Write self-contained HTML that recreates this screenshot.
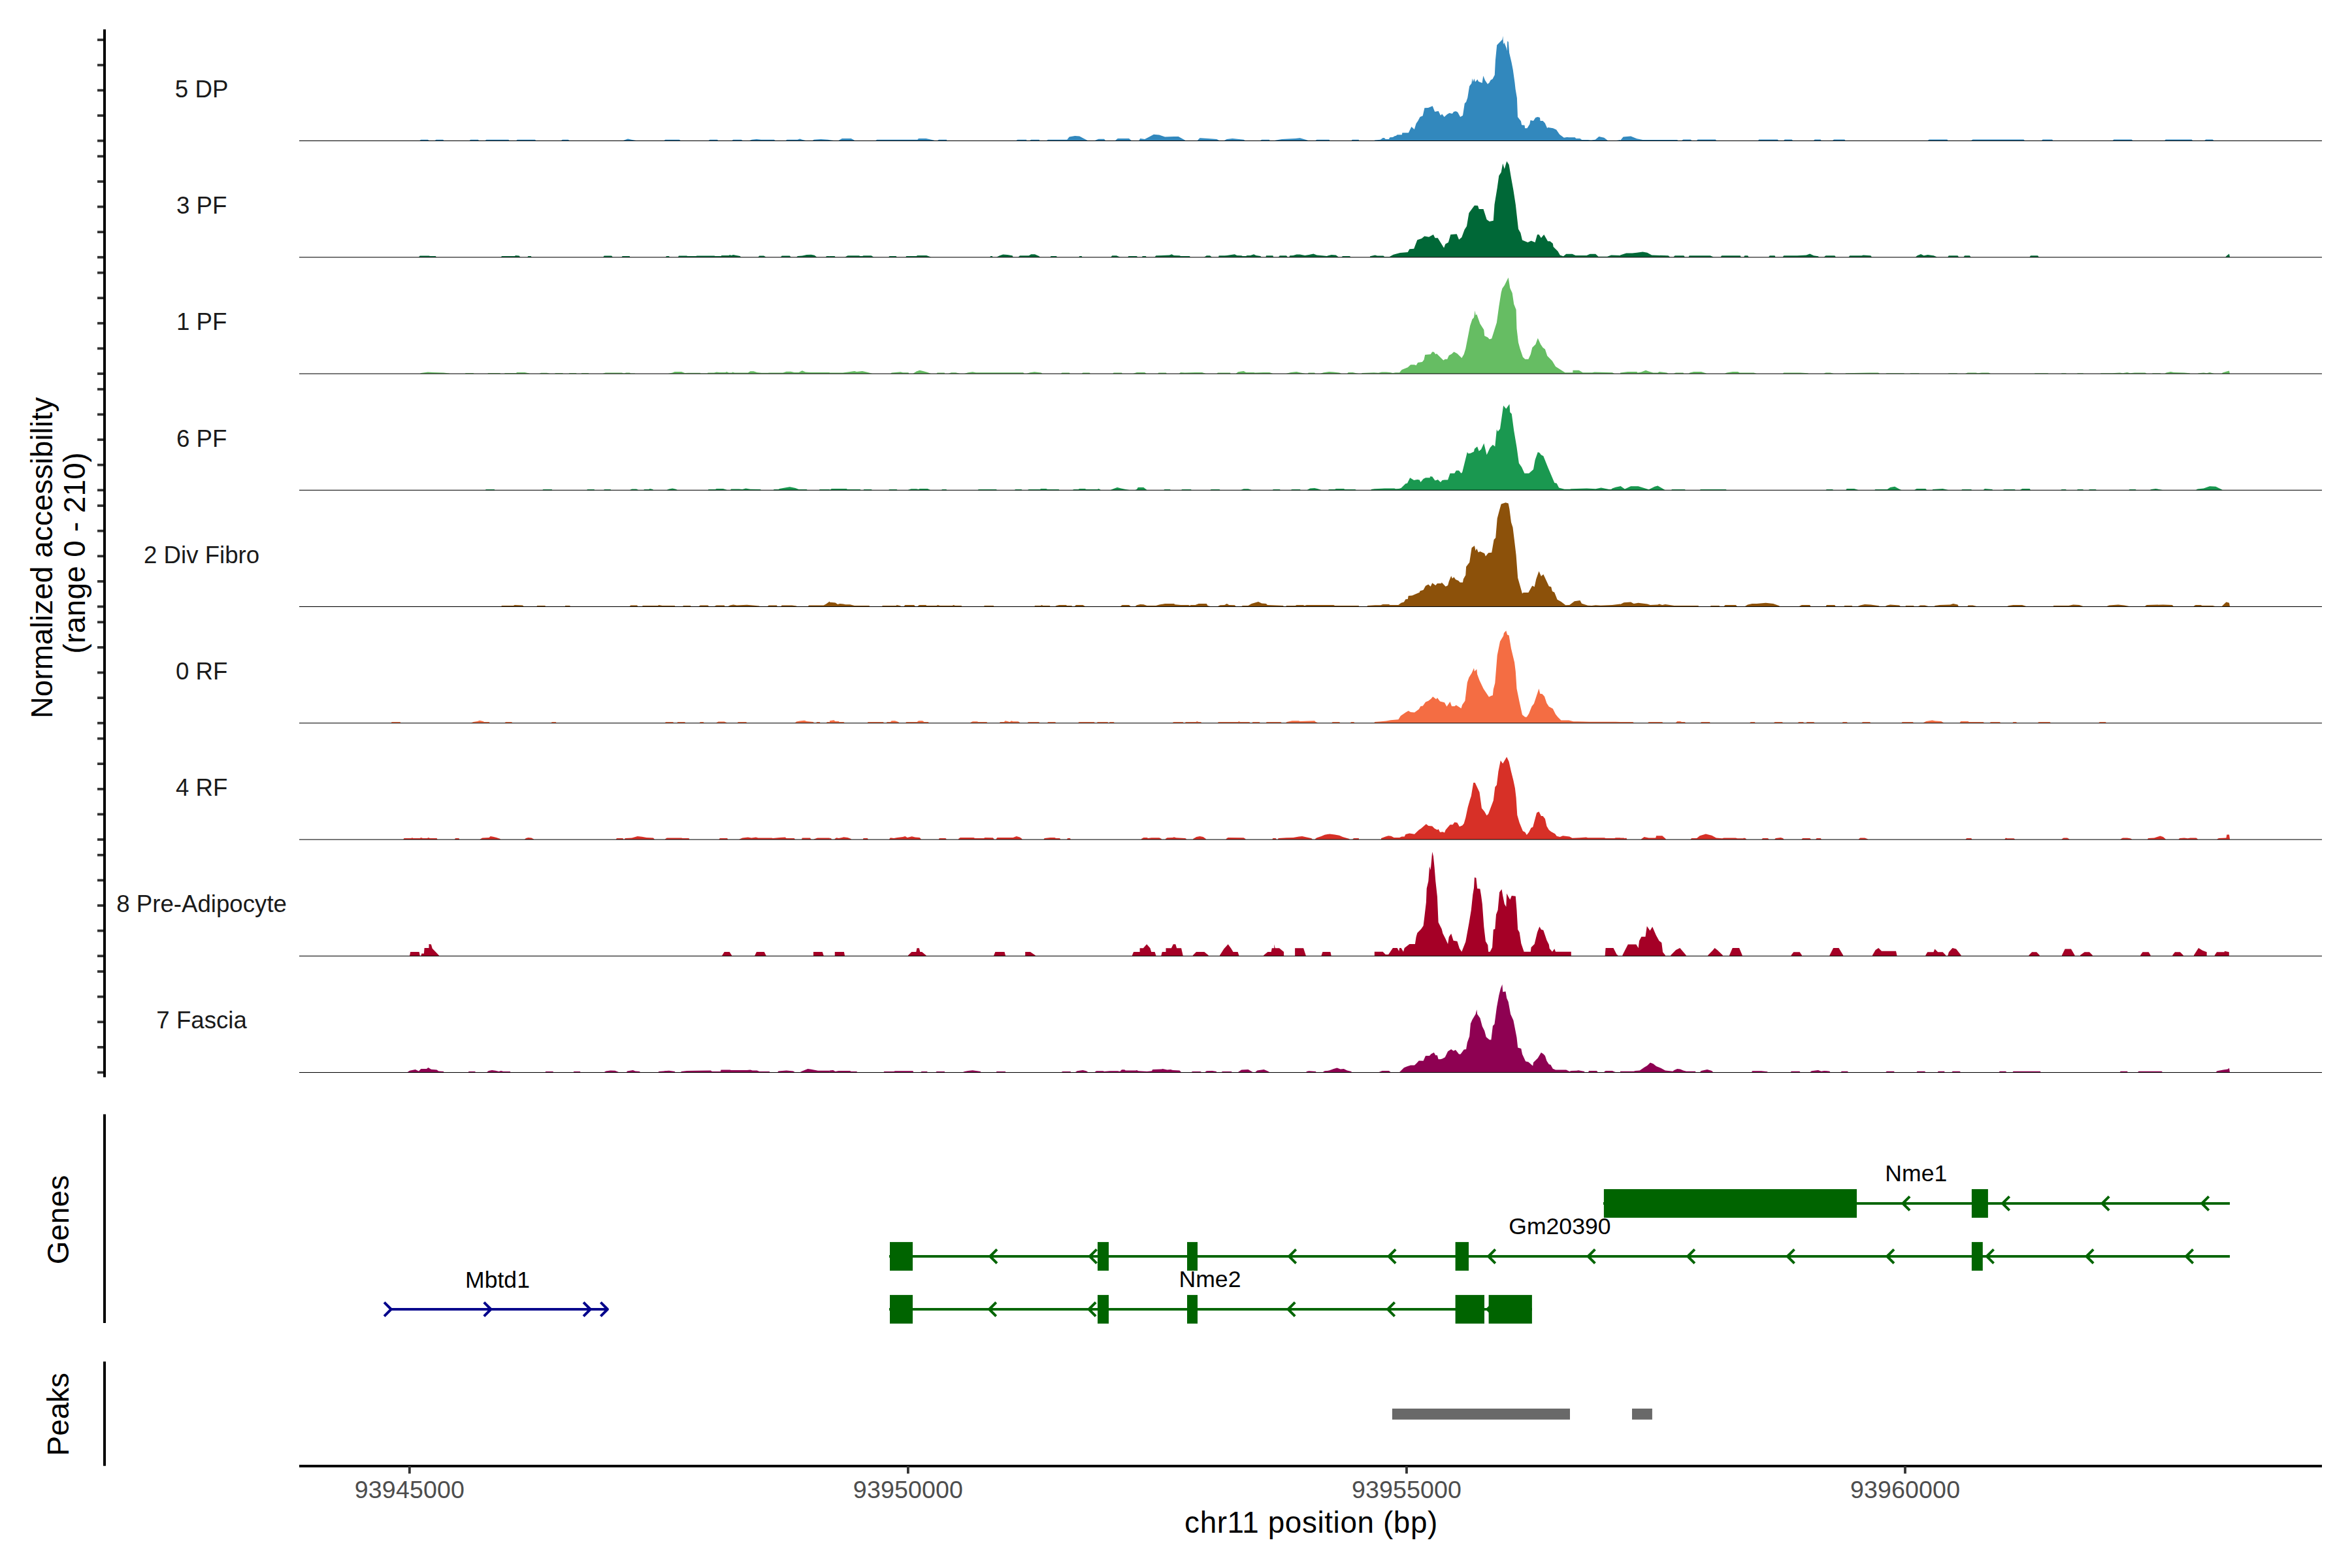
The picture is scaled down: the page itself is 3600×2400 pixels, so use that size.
<!DOCTYPE html><html><head><meta charset="utf-8"><style>html,body{margin:0;padding:0;background:#fff;}svg{display:block}text{font-family:"Liberation Sans", sans-serif;}</style></head><body>
<svg width="3600" height="2400" viewBox="0 0 3600 2400">
<rect x="0" y="0" width="3600" height="2400" fill="#fff"/>
<path d="M2104.0,215.5 2104.0,215.2 2104.0,214.6 2112.9,213.7 2116.8,211.1 2119.1,211.3 2120.7,213.0 2125.8,213.0 2127.4,210.2 2131.9,210.0 2134.7,208.2 2136.9,207.7 2138.6,206.3 2145.8,206.3 2146.4,203.3 2155.9,203.3 2160.4,194.0 2164.8,197.9 2167.6,189.0 2170.4,185.1 2173.5,178.9 2177.7,177.3 2180.4,165.3 2186.0,165.0 2192.7,162.2 2196.1,171.1 2201.7,170.0 2205.0,176.7 2207.2,174.5 2210.6,178.9 2215.0,175.0 2218.4,173.1 2222.9,173.9 2225.1,171.1 2228.4,170.2 2231.2,171.7 2235.1,178.9 2239.0,176.7 2241.8,158.3 2244.1,156.0 2246.3,149.4 2249.1,132.1 2252.4,127.6 2253.5,120.0 2254.7,125.4 2256.3,120.3 2258.0,125.4 2261.4,121.5 2263.0,124.8 2268.6,127.0 2270.3,116.1 2273.1,123.1 2277.0,128.7 2280.0,125.9 2280.0,125.4 2281.7,122.6 2284.5,120.9 2287.8,114.8 2288.9,92.4 2291.2,69.0 2299.5,60.6 2300.4,55.0 2301.0,67.9 2302.3,65.1 2305.7,73.5 2306.6,77.9 2307.3,62.9 2308.8,64.0 2310.1,80.7 2313.5,95.2 2315.7,106.4 2318.5,126.5 2319.6,136.5 2321.9,149.9 2323.0,178.9 2328.0,185.6 2329.1,191.2 2333.6,191.8 2334.1,196.2 2337.5,196.2 2341.4,190.1 2342.5,184.0 2347.0,185.1 2350.3,180.0 2353.7,178.9 2357.0,180.0 2357.6,185.1 2361.5,185.1 2364.8,188.4 2368.2,196.2 2369.3,195.1 2377.1,196.2 2382.1,198.5 2387.1,205.7 2393.8,210.7 2398.3,210.0 2401.7,210.2 2410.6,210.2 2412.3,211.9 2418.4,212.1 2421.2,214.1 2430.7,214.1 2435.1,214.4 2441.8,213.7 2447.4,209.1 2455.2,210.7 2460.8,214.9 2474.2,214.9 2480.0,214.1 2480.0,215.2 2480.0,215.5ZM1283.8,215.5 1283.8,214.8 1288.9,212.0 1302.7,212.0 1307.9,214.8 1307.9,215.5ZM1340.6,215.5 1340.6,214.8 1342.3,213.7 1404.3,213.7 1406.0,212.0 1417.4,212.0 1430.1,214.8 1430.1,215.5ZM1435.3,215.5 1435.3,214.8 1437.0,213.7 1449.1,213.7 1449.1,214.8 1449.1,215.5ZM1555.8,215.5 1555.8,214.8 1557.5,213.7 1571.3,213.7 1571.3,214.8 1571.3,215.5ZM1576.5,215.5 1576.5,214.8 1578.2,213.7 1590.9,213.7 1590.9,214.8 1590.9,215.5ZM1602.3,215.5 1602.3,214.8 1604.0,213.7 1633.3,213.7 1636.7,209.6 1645.3,207.9 1652.2,208.6 1662.6,214.1 1664.3,214.8 1664.3,215.5ZM1676.3,215.5 1676.3,214.8 1681.5,212.7 1690.1,212.7 1691.8,214.8 1691.8,215.5ZM1707.3,215.5 1707.3,214.8 1710.8,212.0 1728.0,212.0 1731.4,214.8 1731.4,215.5ZM1743.5,215.5 1743.5,214.8 1745.2,212.0 1752.1,213.0 1759.0,209.6 1765.9,205.8 1774.5,206.5 1783.1,209.6 1796.9,208.9 1803.7,208.9 1814.1,214.8 1814.1,215.5ZM1833.0,215.5 1833.0,214.8 1836.5,211.3 1848.5,212.0 1862.3,213.0 1865.7,214.8 1865.7,215.5ZM1874.3,215.5 1874.3,214.8 1877.8,213.0 1886.4,212.0 1903.6,213.7 1905.3,214.8 1905.3,215.5ZM1929.4,215.5 1929.4,214.8 1931.2,213.7 1943.2,213.7 1943.2,214.8 1943.2,215.5ZM1951.8,215.5 1951.8,214.8 1962.1,213.0 1982.8,212.0 1989.7,211.3 2001.7,214.8 2001.7,215.5ZM2013.8,215.5 2013.8,214.8 2015.5,213.7 2034.5,213.7 2035.2,214.8 2035.2,215.5ZM2068.9,215.5 2068.9,214.8 2069.6,213.7 2079.9,213.7 2079.9,214.8 2079.9,215.5ZM642.4,215.5 642.4,215.1 644.2,213.7 654.9,213.7 656.7,215.1 656.7,215.5ZM665.7,215.5 665.7,215.1 667.5,213.7 678.2,213.7 679.3,215.1 679.3,215.5ZM718.7,215.5 718.7,215.1 720.1,213.7 731.9,213.7 733.0,215.1 733.0,215.5ZM742.6,215.5 742.6,215.1 744.4,213.7 778.4,213.7 779.5,215.1 779.5,215.5ZM790.3,215.5 790.3,215.1 791.7,213.7 818.9,213.7 820.3,215.1 820.3,215.5ZM859.0,215.5 859.0,215.1 860.8,213.7 869.7,213.7 871.5,215.1 871.5,215.5ZM953.9,215.5 953.9,215.1 957.5,213.7 961.0,212.6 966.4,213.7 973.6,215.1 973.6,215.5ZM1016.5,215.5 1016.5,215.1 1018.3,213.7 1039.8,213.7 1041.6,215.1 1041.6,215.5ZM1084.6,215.5 1084.6,215.1 1086.4,213.7 1098.2,213.7 1098.9,215.1 1098.9,215.5ZM1120.4,215.5 1120.4,215.1 1122.2,213.7 1134.7,213.7 1136.5,215.1 1136.5,215.5ZM1147.2,215.5 1147.2,215.1 1150.8,213.7 1158.0,212.9 1165.1,213.7 1184.8,213.7 1186.6,215.1 1186.6,215.5ZM1202.7,215.5 1202.7,215.1 1204.5,213.7 1220.6,213.7 1224.2,212.6 1227.8,213.7 1233.2,215.1 1233.2,215.5ZM1243.9,215.5 1243.9,215.1 1245.7,213.7 1256.4,212.9 1267.2,213.7 1276.1,215.1 1276.1,215.5ZM1286.9,215.5 1286.9,215.1 1288.6,212.6 1300.1,211.9 1300.1,215.1 1300.1,215.5ZM2480.0,215.5 2480.0,215.0 2484.6,209.5 2496.1,208.6 2505.3,212.2 2514.4,214.1 2567.2,214.1 2568.2,215.0 2568.2,215.5ZM2574.1,215.5 2574.1,215.0 2576.4,213.6 2587.9,213.6 2589.3,215.0 2589.3,215.5ZM2597.1,215.5 2597.1,215.0 2598.5,213.6 2626.0,213.6 2626.9,215.0 2626.9,215.5ZM2691.2,215.5 2691.2,215.0 2692.1,213.6 2721.0,213.6 2722.0,215.0 2722.0,215.5ZM2730.2,215.5 2730.2,215.0 2731.6,213.6 2742.6,213.6 2744.0,215.0 2744.0,215.5ZM2776.1,215.5 2776.1,215.0 2777.5,213.6 2786.7,213.6 2787.6,215.0 2787.6,215.5ZM2805.1,215.5 2805.1,215.0 2806.9,213.6 2823.4,213.6 2824.4,215.0 2824.4,215.5ZM2950.6,215.5 2950.6,215.0 2952.9,213.6 2980.5,213.6 2981.4,215.0 2981.4,215.5ZM3017.2,215.5 3017.2,215.0 3019.5,213.6 3097.5,213.6 3098.9,215.0 3098.9,215.5ZM3125.1,215.5 3125.1,215.0 3126.5,213.6 3141.2,213.6 3142.1,215.0 3142.1,215.5ZM3233.9,215.5 3233.9,215.0 3235.3,213.6 3262.8,213.6 3264.2,215.0 3264.2,215.5ZM3313.3,215.5 3313.3,215.0 3314.7,213.6 3354.7,213.6 3356.0,215.0 3356.0,215.5ZM3374.4,215.5 3374.4,215.0 3376.2,213.6 3386.8,213.6 3388.2,215.0 3388.2,215.5Z" fill="#3288BD"/>
<rect x="458" y="215.00" width="3096" height="1.05" fill="#000"/>
<rect x="149" y="213.60" width="12" height="3.8" fill="#333"/>
<rect x="149" y="174.97" width="12" height="3.8" fill="#333"/>
<rect x="149" y="136.35" width="12" height="3.8" fill="#333"/>
<rect x="149" y="97.72" width="12" height="3.8" fill="#333"/>
<rect x="149" y="59.10" width="12" height="3.8" fill="#333"/>
<text x="308.6" y="149.1" font-size="36.67" fill="#1A1A1A" text-anchor="middle">5 DP</text>
<path d="M2097.0,393.8 2097.0,393.1 2097.0,392.2 2104.7,390.5 2108.1,391.4 2117.4,391.4 2119.1,393.1 2126.8,393.1 2132.7,389.7 2142.9,387.1 2154.8,385.9 2157.4,381.2 2164.2,380.8 2169.3,367.2 2176.1,365.0 2180.3,361.6 2187.1,362.8 2193.9,359.1 2196.5,364.2 2200.7,364.2 2210.1,379.5 2212.3,373.5 2216.9,371.0 2220.3,359.1 2229.7,358.2 2233.1,366.7 2237.3,363.3 2241.6,351.4 2245.0,346.3 2248.4,325.9 2253.5,319.1 2256.9,314.5 2262.0,314.8 2263.7,319.9 2270.5,319.9 2275.6,336.1 2279.8,339.0 2285.8,337.8 2287.5,313.1 2291.7,287.6 2294.3,268.9 2297.7,263.8 2300.2,250.2 2302.8,258.7 2306.2,246.8 2309.6,251.9 2313.0,272.3 2316.4,291.0 2319.8,313.1 2324.0,350.6 2327.4,356.5 2330.0,367.6 2338.5,371.0 2343.6,368.4 2349.6,371.0 2353.0,359.1 2355.5,359.1 2358.9,364.2 2363.2,359.1 2369.1,369.3 2372.5,369.3 2376.8,372.7 2377.6,377.8 2384.4,384.6 2387.8,390.5 2392.9,392.2 2397.2,388.8 2406.5,388.8 2411.6,391.0 2428.6,391.0 2433.7,388.8 2442.2,388.8 2446.5,392.7 2460.1,392.7 2466.1,390.5 2480.0,391.0 2480.0,393.1 2480.0,393.8ZM640.9,393.8 640.9,393.5 642.7,391.4 656.5,391.4 658.2,392.1 666.8,392.1 667.9,393.5 667.9,393.8ZM766.9,393.8 766.9,393.5 768.0,392.1 787.7,392.1 789.4,391.1 794.6,391.4 796.3,393.5 796.3,393.8ZM807.3,393.8 807.3,393.5 808.4,392.1 812.8,392.1 813.5,393.5 813.5,393.8ZM923.3,393.8 923.3,393.5 924.7,391.4 936.1,391.4 937.8,393.5 937.8,393.8ZM951.6,393.8 951.6,393.5 952.6,392.1 963.7,392.1 964.4,393.5 964.4,393.8ZM1018.9,393.8 1018.9,393.5 1020.0,392.1 1024.1,392.1 1024.8,393.5 1024.8,393.8ZM1037.9,393.8 1037.9,393.5 1038.9,391.4 1051.0,391.4 1052.4,392.1 1065.5,392.1 1066.6,391.4 1093.1,391.4 1094.9,392.1 1103.5,392.1 1104.5,391.1 1115.6,391.1 1117.3,390.0 1119.0,391.1 1122.5,390.0 1125.9,390.7 1132.8,392.1 1133.9,393.5 1133.9,393.8ZM1160.5,393.8 1160.5,393.5 1162.2,391.4 1169.1,391.4 1172.5,393.5 1172.5,393.8ZM1195.0,393.8 1195.0,393.5 1196.7,391.4 1208.8,391.4 1210.5,393.5 1210.5,393.8ZM1219.1,393.8 1219.1,393.5 1220.9,392.1 1227.8,391.4 1234.7,390.0 1241.6,389.7 1246.7,390.7 1250.2,393.5 1250.2,393.8ZM1264.0,393.8 1264.0,393.5 1265.0,392.1 1269.9,392.1 1269.9,393.5 1269.9,393.8ZM1270.0,393.8 1270.0,393.4 1270.0,392.0 1277.6,392.0 1278.6,393.4 1278.6,393.8ZM1293.4,393.8 1293.4,393.4 1297.5,391.3 1314.8,391.3 1316.5,392.0 1319.9,392.0 1321.7,391.3 1333.7,391.3 1337.1,393.4 1337.1,393.8ZM1360.2,393.8 1360.2,393.4 1361.3,392.0 1371.6,392.0 1372.6,393.4 1372.6,393.8ZM1386.4,393.8 1386.4,393.4 1387.1,392.0 1402.6,392.0 1404.3,391.0 1418.1,391.0 1425.0,393.4 1425.0,393.8ZM1515.2,393.8 1515.2,393.4 1516.2,392.0 1518.6,392.0 1519.7,393.4 1519.7,393.8ZM1525.5,393.8 1525.5,393.4 1530.0,391.3 1535.2,389.6 1542.0,389.9 1549.6,391.3 1550.6,393.4 1550.6,393.8ZM1558.6,393.8 1558.6,393.4 1561.0,391.3 1574.8,391.3 1578.2,389.3 1584.0,389.3 1590.2,392.0 1592.0,393.4 1592.0,393.8ZM1607.5,393.8 1607.5,393.4 1608.5,392.0 1617.1,392.0 1617.8,393.4 1617.8,393.8ZM1651.5,393.8 1651.5,393.4 1652.2,392.0 1655.7,392.0 1656.4,393.4 1656.4,393.8ZM1700.4,393.8 1700.4,393.4 1702.2,391.3 1709.0,391.3 1714.2,393.4 1714.2,393.8ZM1726.3,393.8 1726.3,393.4 1727.3,392.0 1740.0,392.0 1741.1,393.4 1741.1,393.8ZM1748.0,393.8 1748.0,393.4 1748.7,392.0 1753.8,392.0 1754.8,393.4 1754.8,393.8ZM1767.6,393.8 1767.6,393.4 1769.3,391.3 1790.0,390.6 1793.4,389.3 1796.9,391.0 1805.5,391.3 1807.2,392.0 1821.0,392.0 1821.7,393.4 1821.7,393.8ZM1843.3,393.8 1843.3,393.4 1846.8,391.3 1852.0,391.3 1854.7,393.4 1854.7,393.8ZM1865.0,393.8 1865.0,393.4 1865.7,391.3 1874.3,391.3 1877.8,391.0 1889.8,389.3 1893.3,391.0 1900.2,391.3 1901.9,392.0 1907.1,392.0 1908.8,391.0 1913.9,391.0 1919.1,389.3 1922.5,391.0 1929.4,392.0 1930.5,393.4 1930.5,393.8ZM1937.4,393.8 1937.4,393.4 1938.0,391.3 1948.4,391.3 1949.1,393.4 1949.1,393.8ZM1957.0,393.8 1957.0,393.4 1958.7,391.3 1969.0,391.3 1970.8,393.4 1970.8,393.8ZM1973.2,393.8 1973.2,393.4 1974.2,391.3 1979.4,391.0 1984.5,389.6 1989.7,389.6 1997.3,391.0 2003.5,389.9 2010.4,388.6 2015.5,390.6 2024.1,391.3 2031.0,392.0 2032.7,391.3 2037.9,389.9 2044.8,390.6 2048.9,393.4 2048.9,393.8ZM2053.4,393.8 2053.4,393.4 2055.1,392.0 2066.1,392.0 2067.2,393.4 2067.2,393.8ZM2480.0,393.8 2480.0,393.2 2480.0,390.4 2489.2,387.6 2498.4,387.6 2505.3,386.7 2514.4,385.4 2521.3,386.7 2528.2,390.4 2553.5,391.3 2555.8,393.2 2555.8,393.8ZM2561.7,393.8 2561.7,393.2 2563.6,391.3 2577.3,391.3 2578.7,393.2 2578.7,393.8ZM2584.7,393.8 2584.7,393.2 2585.6,391.3 2617.7,391.3 2622.3,393.2 2622.3,393.8ZM2633.8,393.8 2633.8,393.2 2635.2,391.3 2663.7,391.3 2664.6,393.2 2664.6,393.8ZM2669.2,393.8 2669.2,393.2 2670.5,391.3 2675.1,391.3 2676.5,393.2 2676.5,393.8ZM2707.3,393.8 2707.3,393.2 2708.7,391.3 2716.5,391.3 2717.4,393.2 2717.4,393.8ZM2728.9,393.8 2728.9,393.2 2730.2,391.3 2750.9,391.3 2764.7,390.4 2770.2,388.6 2776.1,391.3 2783.0,392.2 2783.9,393.2 2783.9,393.8ZM2792.2,393.8 2792.2,393.2 2794.5,391.3 2808.3,391.3 2809.7,393.2 2809.7,393.8ZM2829.9,393.8 2829.9,393.2 2831.2,391.3 2849.6,391.3 2851.9,390.4 2863.4,391.3 2864.8,393.2 2864.8,393.8ZM2932.2,393.8 2932.2,393.2 2934.5,391.3 2940.1,389.0 2944.6,391.3 2950.6,389.9 2959.8,391.3 2964.4,393.2 2964.4,393.8ZM2981.4,393.8 2981.4,393.2 2982.8,391.3 2996.5,391.3 2997.9,393.2 2997.9,393.8ZM3005.7,393.8 3005.7,393.2 3007.1,391.3 3014.9,391.3 3016.3,393.2 3016.3,393.8ZM3106.7,393.8 3106.7,393.2 3108.1,391.3 3119.1,391.3 3120.5,393.2 3120.5,393.8ZM3406.5,393.8 3406.5,393.2 3408.4,391.3 3412.0,388.6 3413.0,393.2 3413.0,393.8Z" fill="#006837"/>
<rect x="458" y="393.25" width="3096" height="1.05" fill="#000"/>
<rect x="149" y="391.85" width="12" height="3.8" fill="#333"/>
<rect x="149" y="353.23" width="12" height="3.8" fill="#333"/>
<rect x="149" y="314.60" width="12" height="3.8" fill="#333"/>
<rect x="149" y="275.98" width="12" height="3.8" fill="#333"/>
<rect x="149" y="237.35" width="12" height="3.8" fill="#333"/>
<text x="308.6" y="327.2" font-size="36.67" fill="#1A1A1A" text-anchor="middle">3 PF</text>
<path d="M2084.3,572.0 2084.3,571.9 2084.3,571.1 2103.0,570.2 2109.8,570.7 2114.9,569.4 2121.7,569.4 2127.6,569.9 2131.9,571.1 2136.1,570.2 2142.1,570.2 2145.5,566.0 2154.8,562.2 2159.1,558.3 2165.0,558.3 2167.6,559.2 2170.1,554.9 2176.9,554.1 2179.5,550.7 2181.2,543.0 2189.7,542.2 2192.2,538.4 2194.8,538.8 2197.3,542.2 2199.0,541.3 2209.3,551.5 2211.8,549.8 2215.2,549.8 2217.8,543.9 2222.0,541.8 2225.4,538.4 2230.5,541.3 2237.3,548.1 2240.7,542.2 2243.3,533.7 2250.1,498.8 2253.5,488.6 2256.0,486.0 2257.7,475.3 2258.6,482.6 2260.3,480.9 2265.4,495.4 2271.3,504.7 2272.2,514.1 2277.3,516.6 2279.8,519.2 2283.2,518.3 2290.9,493.7 2294.3,469.0 2297.7,447.8 2299.4,441.5 2302.8,436.7 2308.7,424.8 2311.3,441.0 2314.7,448.6 2317.2,465.6 2320.6,474.1 2321.5,503.0 2324.0,524.3 2326.6,533.7 2330.9,546.4 2334.3,549.8 2339.4,549.8 2342.8,542.2 2345.3,532.0 2350.4,526.9 2353.8,517.5 2358.1,526.9 2361.5,532.0 2364.9,534.5 2368.3,544.7 2375.9,552.4 2381.0,560.9 2386.1,564.3 2395.5,570.2 2407.4,570.2 2407.4,566.8 2416.7,566.8 2422.7,570.2 2437.1,570.2 2440.5,569.4 2467.8,570.2 2471.2,571.9 2471.2,572.0ZM642.7,572.0 642.7,572.0 644.4,571.1 654.8,569.4 663.4,570.0 678.9,570.4 687.5,571.4 688.6,572.0 688.6,572.0ZM711.7,572.0 711.7,572.0 712.7,571.1 724.5,571.1 725.5,572.0 725.5,572.0ZM746.2,572.0 746.2,572.0 747.3,571.1 765.2,571.1 766.2,572.0 766.2,572.0ZM772.1,572.0 772.1,572.0 772.8,571.1 790.1,571.1 791.1,570.0 803.2,570.0 810.1,571.4 810.8,572.0 810.8,572.0ZM825.6,572.0 825.6,572.0 828.0,570.7 837.0,570.7 841.2,571.8 841.8,572.0 841.8,572.0ZM849.1,572.0 849.1,572.0 850.1,571.1 861.2,571.1 861.9,572.0 861.9,572.0ZM870.5,572.0 870.5,572.0 871.5,571.1 881.9,571.1 882.6,572.0 882.6,572.0ZM889.5,572.0 889.5,572.0 890.5,571.1 900.5,571.1 901.6,572.0 901.6,572.0ZM922.3,572.0 922.3,572.0 926.8,570.4 951.6,570.4 955.1,571.4 958.5,570.4 963.7,570.4 965.4,571.4 971.6,571.4 972.3,572.0 972.3,572.0ZM1022.4,572.0 1022.4,572.0 1029.3,570.4 1032.7,569.0 1043.1,569.0 1048.3,571.1 1053.4,570.7 1071.7,570.7 1072.4,571.4 1082.8,571.4 1083.5,570.4 1093.1,570.4 1096.6,569.4 1101.8,570.0 1110.4,570.0 1112.1,569.0 1115.6,570.4 1120.1,570.4 1121.4,569.4 1124.2,570.4 1144.9,570.4 1148.4,568.3 1153.5,568.3 1158.7,570.0 1165.6,570.7 1176.0,570.7 1176.7,570.4 1198.4,570.4 1203.6,568.7 1210.5,568.7 1215.7,570.0 1222.6,570.0 1227.8,567.3 1232.9,569.4 1240.9,570.0 1269.9,570.0 1269.9,572.0 1269.9,572.0ZM1270.0,572.0 1270.0,572.0 1270.0,570.6 1290.0,570.6 1299.3,569.3 1307.9,567.9 1311.3,568.9 1319.9,567.9 1328.5,569.9 1335.4,572.0 1335.4,572.0ZM1363.0,572.0 1363.0,572.0 1364.7,570.6 1378.5,569.3 1381.9,570.3 1390.5,570.3 1391.2,572.0 1391.2,572.0ZM1397.4,572.0 1397.4,572.0 1402.6,568.6 1407.7,566.8 1412.9,567.9 1419.8,569.9 1425.0,572.0 1425.0,572.0ZM1433.6,572.0 1433.6,572.0 1434.6,570.6 1445.6,570.6 1446.3,572.0 1446.3,572.0ZM1451.5,572.0 1451.5,572.0 1456.0,570.3 1462.8,570.3 1469.7,572.0 1469.7,572.0ZM1475.9,572.0 1475.9,572.0 1481.8,570.3 1488.7,569.3 1493.8,570.3 1566.1,570.3 1567.9,572.0 1567.9,572.0ZM1571.3,572.0 1571.3,572.0 1576.5,570.3 1583.4,569.3 1593.7,570.6 1595.4,572.0 1595.4,572.0ZM1624.0,572.0 1624.0,572.0 1625.4,570.6 1636.7,570.6 1637.8,572.0 1637.8,572.0ZM1655.7,572.0 1655.7,572.0 1657.4,570.6 1667.7,570.6 1668.8,572.0 1668.8,572.0ZM1703.2,572.0 1703.2,572.0 1704.6,570.6 1717.0,570.6 1717.7,572.0 1717.7,572.0ZM1734.2,572.0 1734.2,572.0 1740.0,569.9 1752.1,569.9 1754.8,572.0 1754.8,572.0ZM1772.1,572.0 1772.1,572.0 1773.4,570.6 1784.8,570.6 1785.8,572.0 1785.8,572.0ZM1804.4,572.0 1804.4,572.0 1807.2,569.9 1813.4,570.6 1829.6,569.9 1839.9,569.9 1845.8,572.0 1845.8,572.0ZM1862.3,572.0 1862.3,572.0 1864.0,570.6 1882.9,570.6 1883.6,572.0 1883.6,572.0ZM1891.6,572.0 1891.6,572.0 1895.0,569.3 1903.6,567.9 1907.1,569.9 1919.1,569.9 1920.8,570.6 1933.9,569.9 1943.2,569.9 1948.4,572.0 1948.4,572.0ZM1968.3,572.0 1968.3,572.0 1975.9,569.9 1984.5,568.9 1989.7,570.3 1998.3,572.0 1998.3,572.0ZM2001.7,572.0 2001.7,572.0 2002.8,570.6 2012.1,570.6 2013.1,572.0 2013.1,572.0ZM2020.7,572.0 2020.7,572.0 2025.9,570.3 2034.5,568.9 2041.3,569.6 2050.0,570.6 2053.4,572.0 2053.4,572.0ZM2062.0,572.0 2062.0,572.0 2063.7,569.9 2070.6,569.9 2075.8,571.3 2079.9,572.0 2079.9,572.0ZM2480.0,572.0 2480.0,572.0 2480.0,570.4 2491.5,569.0 2505.3,569.0 2506.6,570.4 2512.1,569.5 2519.0,566.7 2523.6,568.6 2530.5,570.4 2537.4,570.4 2539.7,569.0 2551.2,570.4 2553.5,572.0 2553.5,572.0ZM2561.7,572.0 2561.7,572.0 2564.9,570.4 2576.4,570.4 2577.3,572.0 2577.3,572.0ZM2584.7,572.0 2584.7,572.0 2586.5,570.4 2592.5,569.0 2604.0,569.0 2610.9,571.3 2612.2,572.0 2612.2,572.0ZM2639.8,572.0 2639.8,572.0 2643.0,570.4 2652.2,569.0 2660.0,569.0 2662.7,570.4 2684.3,570.4 2688.9,572.0 2688.9,572.0ZM2728.9,572.0 2728.9,572.0 2730.2,570.4 2755.5,570.4 2767.0,571.3 2768.3,572.0 2768.3,572.0ZM2791.3,572.0 2791.3,572.0 2794.5,570.4 2801.4,570.4 2806.9,572.0 2806.9,572.0ZM2824.4,572.0 2824.4,572.0 2825.3,571.3 2861.1,570.4 2874.9,570.4 2877.2,572.0 2877.2,572.0ZM2886.3,572.0 2886.3,572.0 2887.7,571.3 2913.9,571.3 2915.3,572.0 2915.3,572.0ZM2923.1,572.0 2923.1,572.0 2924.4,571.3 2936.8,571.3 2938.2,572.0 2938.2,572.0ZM2981.4,572.0 2981.4,572.0 2982.8,571.3 2995.2,571.3 2996.5,572.0 2996.5,572.0ZM3008.0,572.0 3008.0,572.0 3011.7,570.4 3024.1,570.4 3027.3,571.3 3033.3,570.4 3043.8,570.4 3047.0,572.0 3047.0,572.0ZM3113.6,572.0 3113.6,572.0 3115.0,571.3 3134.3,571.3 3135.6,572.0 3135.6,572.0ZM3154.9,572.0 3154.9,572.0 3155.8,571.3 3161.8,571.3 3163.2,572.0 3163.2,572.0ZM3178.8,572.0 3178.8,572.0 3180.2,571.3 3188.0,571.3 3189.4,572.0 3189.4,572.0ZM3214.6,572.0 3214.6,572.0 3216.0,571.3 3233.0,571.3 3244.5,570.4 3249.1,571.3 3255.9,569.9 3260.5,571.3 3267.4,570.4 3283.5,570.4 3285.8,572.0 3285.8,572.0ZM3293.6,572.0 3293.6,572.0 3295.0,571.3 3306.4,571.3 3307.8,572.0 3307.8,572.0ZM3313.3,572.0 3313.3,572.0 3315.6,570.4 3322.5,569.0 3327.1,569.9 3343.2,570.4 3351.4,571.3 3352.4,572.0 3352.4,572.0ZM3363.8,572.0 3363.8,572.0 3365.2,571.3 3373.0,570.4 3377.6,571.3 3382.2,569.9 3389.1,572.0 3389.1,572.0ZM3400.6,572.0 3400.6,572.0 3401.9,570.4 3406.5,569.0 3412.0,567.6 3413.0,572.0 3413.0,572.0Z" fill="#66BD63"/>
<rect x="458" y="571.50" width="3096" height="1.05" fill="#000"/>
<rect x="149" y="570.10" width="12" height="3.8" fill="#333"/>
<rect x="149" y="531.48" width="12" height="3.8" fill="#333"/>
<rect x="149" y="492.85" width="12" height="3.8" fill="#333"/>
<rect x="149" y="454.23" width="12" height="3.8" fill="#333"/>
<rect x="149" y="415.60" width="12" height="3.8" fill="#333"/>
<text x="308.6" y="505.4" font-size="36.67" fill="#1A1A1A" text-anchor="middle">1 PF</text>
<path d="M2098.7,750.2 2098.7,749.9 2098.7,749.1 2103.8,748.2 2114.9,747.7 2119.1,747.4 2134.4,747.4 2136.1,748.2 2141.2,747.9 2144.6,747.0 2151.4,740.2 2154.0,739.7 2158.2,731.2 2164.2,735.1 2169.3,734.1 2172.7,734.6 2174.4,738.0 2178.6,732.9 2182.0,731.2 2188.8,731.2 2188.8,729.2 2192.2,729.5 2196.5,735.5 2199.9,734.6 2200.7,734.1 2205.0,738.0 2207.6,735.1 2211.0,734.6 2216.1,734.6 2219.5,724.4 2226.3,724.4 2228.8,720.2 2233.1,720.2 2236.5,724.4 2238.2,722.7 2245.8,692.1 2247.5,694.3 2250.9,693.8 2256.0,691.2 2256.9,687.0 2261.1,683.6 2263.7,690.4 2267.1,687.8 2271.3,678.5 2275.6,696.3 2280.7,685.3 2284.9,680.7 2288.3,683.6 2290.9,657.2 2292.6,660.6 2296.0,656.4 2301.1,620.7 2305.3,625.8 2310.4,618.5 2311.3,630.9 2313.8,633.4 2317.2,658.9 2321.5,684.4 2324.9,709.1 2329.1,715.1 2333.4,724.4 2340.2,724.4 2347.0,718.5 2349.6,704.0 2353.8,692.1 2356.4,692.9 2358.9,696.3 2362.3,698.0 2369.1,715.1 2379.3,738.9 2382.7,739.7 2386.1,746.5 2394.6,748.7 2403.1,748.7 2404.8,748.2 2428.6,747.4 2442.2,748.2 2450.7,746.5 2462.7,749.1 2466.1,749.1 2467.8,747.4 2472.9,745.7 2480.0,744.3 2480.0,749.9 2480.0,750.2ZM742.8,750.2 742.8,750.2 743.8,749.1 756.6,749.1 757.6,750.2 757.6,750.2ZM830.1,750.2 830.1,750.2 831.5,749.1 844.6,749.1 845.3,750.2 845.3,750.2ZM898.1,750.2 898.1,750.2 899.1,749.1 909.5,749.1 910.2,750.2 910.2,750.2ZM924.0,750.2 924.0,750.2 925.0,749.1 934.4,749.1 935.4,750.2 935.4,750.2ZM963.7,750.2 963.7,750.2 967.1,748.4 974.1,748.4 977.5,750.2 977.5,750.2ZM985.1,750.2 985.1,750.2 986.1,749.1 993.0,749.1 994.8,748.0 999.2,749.1 999.9,750.2 999.9,750.2ZM1020.0,750.2 1020.0,750.2 1024.1,748.4 1029.3,747.4 1034.5,748.7 1037.2,750.2 1037.2,750.2ZM1083.5,750.2 1083.5,750.2 1084.5,749.1 1094.9,749.1 1096.6,748.0 1106.9,748.0 1112.1,749.8 1113.2,750.2 1113.2,750.2ZM1118.0,750.2 1118.0,750.2 1119.0,748.4 1131.1,748.4 1136.3,749.1 1141.5,747.4 1148.4,748.7 1163.9,749.1 1164.9,750.2 1164.9,750.2ZM1183.9,750.2 1183.9,750.2 1184.6,749.1 1191.5,749.1 1193.2,748.0 1200.1,746.7 1208.8,745.3 1217.4,747.0 1222.6,749.1 1234.7,749.1 1235.7,750.2 1235.7,750.2ZM1253.7,750.2 1253.7,750.2 1254.7,749.1 1269.9,749.1 1269.9,750.2 1269.9,750.2ZM1270.0,750.2 1270.0,750.0 1272.8,747.9 1295.8,747.9 1296.9,749.0 1316.5,749.0 1317.5,750.0 1317.5,750.2ZM1321.7,750.2 1321.7,750.0 1322.3,749.0 1333.7,749.0 1334.7,750.0 1334.7,750.2ZM1360.2,750.2 1360.2,750.0 1361.3,749.0 1372.6,749.0 1373.3,750.0 1373.3,750.2ZM1389.8,750.2 1389.8,750.0 1394.7,748.3 1402.6,748.3 1406.0,749.0 1407.7,747.9 1419.8,747.9 1423.9,750.0 1423.9,750.2ZM1441.1,750.2 1441.1,750.0 1442.2,749.0 1448.4,749.0 1449.1,750.0 1449.1,750.2ZM1496.6,750.2 1496.6,750.0 1498.0,749.0 1524.8,749.0 1525.9,750.0 1525.9,750.2ZM1553.1,750.2 1553.1,750.0 1554.1,749.0 1563.4,749.0 1564.4,750.0 1564.4,750.2ZM1573.0,750.2 1573.0,750.0 1574.8,749.0 1592.0,749.0 1593.0,747.9 1601.3,747.9 1603.3,749.0 1620.6,749.0 1621.2,750.0 1621.2,750.2ZM1641.9,750.2 1641.9,750.0 1643.6,749.0 1650.5,749.0 1652.2,747.9 1660.8,747.9 1662.6,749.0 1679.8,749.0 1681.5,747.9 1684.9,750.0 1684.9,750.2ZM1699.8,750.2 1699.8,750.0 1703.9,748.3 1710.1,745.9 1715.9,747.6 1722.8,749.0 1728.7,750.0 1728.7,750.2ZM1737.6,750.2 1737.6,750.0 1740.0,749.0 1741.8,745.9 1750.4,745.9 1755.5,750.0 1755.5,750.2ZM1781.4,750.2 1781.4,750.0 1782.4,749.0 1790.7,749.0 1791.7,750.0 1791.7,750.2ZM1808.2,750.2 1808.2,750.0 1809.3,749.0 1822.7,749.0 1823.7,750.0 1823.7,750.2ZM1852.6,750.2 1852.6,750.0 1853.7,749.0 1866.4,749.0 1867.5,750.0 1867.5,750.2ZM1899.5,750.2 1899.5,750.0 1903.6,748.3 1910.5,748.3 1915.7,750.0 1915.7,750.2ZM1947.7,750.2 1947.7,750.0 1949.1,749.0 1958.7,749.0 1959.7,750.0 1959.7,750.2ZM1975.9,750.2 1975.9,750.0 1977.6,749.0 1989.7,749.0 1990.7,750.0 1990.7,750.2ZM2000.7,750.2 2000.7,750.0 2005.2,747.6 2012.1,746.9 2017.2,748.3 2022.4,750.0 2022.4,750.2ZM2032.7,750.2 2032.7,750.0 2034.5,749.0 2043.1,749.0 2044.8,747.9 2056.8,747.9 2058.6,749.0 2074.1,749.0 2075.8,750.0 2075.8,750.2ZM2480.0,750.2 2480.0,750.2 2480.0,743.8 2486.9,748.4 2496.1,744.3 2507.5,744.3 2521.3,748.4 2523.6,749.3 2532.8,744.7 2537.4,743.4 2544.3,747.5 2548.9,750.2 2548.9,750.2ZM2558.1,750.2 2558.1,750.2 2559.0,748.9 2578.7,748.9 2580.1,750.2 2580.1,750.2ZM2601.7,750.2 2601.7,750.2 2603.0,748.9 2641.6,748.9 2643.0,750.2 2643.0,750.2ZM2794.5,750.2 2794.5,750.2 2795.9,748.9 2805.1,748.9 2806.0,750.2 2806.0,750.2ZM2825.3,750.2 2825.3,750.2 2826.6,747.9 2838.1,747.9 2845.0,750.2 2845.0,750.2ZM2869.3,750.2 2869.3,750.2 2870.3,748.9 2888.6,748.9 2893.2,746.1 2900.1,744.7 2907.0,748.4 2910.7,750.2 2910.7,750.2ZM2930.0,750.2 2930.0,750.2 2933.6,747.9 2947.4,747.9 2949.2,750.2 2949.2,750.2ZM2957.5,750.2 2957.5,750.2 2958.4,748.9 2973.6,747.9 2982.8,750.2 2982.8,750.2ZM3002.0,750.2 3002.0,750.2 3003.4,748.9 3017.2,748.9 3018.1,750.2 3018.1,750.2ZM3035.6,750.2 3035.6,750.2 3037.9,747.9 3049.3,748.9 3050.2,750.2 3050.2,750.2ZM3065.4,750.2 3065.4,750.2 3067.7,748.9 3083.8,748.9 3085.1,750.2 3085.1,750.2ZM3091.6,750.2 3091.6,750.2 3095.2,747.9 3106.7,747.9 3108.1,750.2 3108.1,750.2ZM3154.0,750.2 3154.0,750.2 3155.8,748.9 3161.8,748.9 3163.2,750.2 3163.2,750.2ZM3178.8,750.2 3178.8,750.2 3180.2,748.9 3188.0,748.9 3189.4,750.2 3189.4,750.2ZM3196.3,750.2 3196.3,750.2 3198.5,748.9 3207.7,748.9 3209.1,750.2 3209.1,750.2ZM3258.2,750.2 3258.2,750.2 3259.6,748.9 3268.8,748.9 3269.7,750.2 3269.7,750.2ZM3290.4,750.2 3290.4,750.2 3292.7,748.9 3299.6,747.9 3311.0,750.2 3311.0,750.2ZM3360.6,750.2 3360.6,750.2 3363.8,748.4 3373.0,747.5 3382.2,744.3 3391.4,744.7 3400.6,749.3 3401.9,750.2 3401.9,750.2Z" fill="#1A9850"/>
<rect x="458" y="749.75" width="3096" height="1.05" fill="#000"/>
<rect x="149" y="748.35" width="12" height="3.8" fill="#333"/>
<rect x="149" y="709.73" width="12" height="3.8" fill="#333"/>
<rect x="149" y="671.10" width="12" height="3.8" fill="#333"/>
<rect x="149" y="632.48" width="12" height="3.8" fill="#333"/>
<rect x="149" y="593.85" width="12" height="3.8" fill="#333"/>
<text x="308.6" y="683.6" font-size="36.67" fill="#1A1A1A" text-anchor="middle">6 PF</text>
<path d="M2092.8,928.5 2092.8,927.9 2092.8,927.1 2104.7,926.2 2113.2,926.2 2116.6,925.0 2125.9,925.0 2127.6,925.9 2140.4,925.9 2144.6,922.8 2148.9,921.6 2151.4,917.2 2154.8,916.9 2155.7,912.1 2161.6,911.4 2165.0,910.1 2172.7,906.7 2173.5,904.6 2178.6,902.9 2182.0,896.8 2186.3,894.4 2189.7,897.8 2192.2,892.2 2197.3,896.1 2199.9,893.1 2205.9,893.1 2206.7,891.4 2212.7,897.8 2216.1,896.1 2217.8,889.7 2221.2,881.5 2222.9,885.4 2225.4,883.2 2228.0,887.1 2232.2,888.8 2234.8,891.4 2239.0,891.4 2239.9,886.3 2243.3,880.3 2244.1,867.5 2249.2,860.7 2252.6,838.6 2256.9,835.2 2258.6,842.9 2260.3,839.5 2262.8,845.4 2265.4,844.1 2272.2,847.1 2273.9,851.4 2278.1,846.3 2283.2,845.8 2286.6,825.9 2289.2,823.3 2291.7,793.6 2295.1,780.8 2297.7,771.5 2304.5,769.2 2308.7,770.6 2310.4,779.1 2313.0,799.5 2315.5,807.2 2318.1,828.4 2320.6,849.7 2323.2,884.6 2330.0,908.4 2331.7,907.0 2339.4,907.0 2345.3,896.5 2348.7,898.2 2351.3,886.3 2355.5,874.3 2358.9,882.0 2362.3,879.1 2365.7,886.3 2370.8,897.3 2374.2,898.2 2375.9,905.0 2379.3,906.7 2383.6,917.7 2389.5,921.1 2396.3,926.2 2402.3,925.9 2409.9,920.3 2418.4,919.1 2421.0,923.7 2430.3,926.7 2436.3,927.1 2442.2,926.2 2449.9,926.7 2467.8,925.9 2480.0,924.5 2480.0,927.9 2480.0,928.5ZM766.9,928.5 766.9,928.5 768.0,927.1 785.9,927.1 787.7,926.0 799.7,926.4 802.5,928.5 802.5,928.5ZM821.1,928.5 821.1,928.5 822.2,927.1 834.3,927.1 835.3,928.5 835.3,928.5ZM864.3,928.5 864.3,928.5 865.3,927.1 872.2,927.1 873.3,928.5 873.3,928.5ZM963.0,928.5 963.0,928.5 965.4,926.4 975.1,926.4 976.8,928.5 976.8,928.5ZM982.7,928.5 982.7,928.5 983.7,927.1 1006.8,927.1 1008.6,926.0 1013.7,927.1 1032.7,927.1 1033.8,928.5 1033.8,928.5ZM1044.8,928.5 1044.8,928.5 1045.8,927.1 1056.9,927.1 1057.9,928.5 1057.9,928.5ZM1069.0,928.5 1069.0,928.5 1071.7,926.4 1083.5,926.4 1085.5,928.5 1085.5,928.5ZM1092.4,928.5 1092.4,928.5 1096.6,926.4 1108.7,926.4 1109.7,928.5 1109.7,928.5ZM1113.2,928.5 1113.2,928.5 1117.3,926.4 1122.5,925.4 1127.7,926.4 1143.2,925.7 1151.8,926.4 1162.2,927.4 1162.9,928.5 1162.9,928.5ZM1174.3,928.5 1174.3,928.5 1176.7,926.4 1189.1,926.4 1189.8,928.5 1189.8,928.5ZM1195.0,928.5 1195.0,928.5 1196.7,926.4 1212.2,926.4 1219.1,927.4 1220.2,928.5 1220.2,928.5ZM1236.4,928.5 1236.4,928.5 1238.1,926.4 1260.6,926.4 1264.0,924.7 1267.5,922.2 1269.9,920.5 1270.0,921.8 1278.6,922.5 1282.1,924.9 1285.5,923.9 1290.7,924.6 1294.1,925.3 1301.0,925.3 1307.9,927.0 1330.3,927.0 1331.3,928.0 1331.3,928.5ZM1349.9,928.5 1349.9,928.0 1350.9,927.0 1371.6,927.0 1372.6,925.9 1377.4,927.0 1379.5,928.0 1379.5,928.5ZM1383.6,928.5 1383.6,928.0 1385.4,925.9 1399.1,925.9 1400.9,928.0 1400.9,928.5ZM1404.3,928.5 1404.3,928.0 1407.1,925.9 1417.4,925.9 1418.1,927.0 1433.6,927.0 1435.3,925.9 1438.7,927.0 1457.7,927.0 1459.4,925.9 1462.1,927.0 1471.4,927.0 1472.5,928.0 1472.5,928.5ZM1505.9,928.5 1505.9,928.0 1506.9,927.0 1520.7,927.0 1521.4,928.0 1521.4,928.5ZM1583.4,928.5 1583.4,928.0 1584.0,927.0 1593.0,927.0 1594.4,925.9 1596.4,927.0 1606.8,927.0 1607.5,928.0 1607.5,928.5ZM1615.0,928.5 1615.0,928.0 1617.1,927.0 1621.2,925.9 1631.6,925.9 1633.3,927.0 1640.2,927.0 1641.2,928.0 1641.2,928.5ZM1644.7,928.5 1644.7,928.0 1647.1,925.9 1657.4,925.9 1660.8,928.0 1660.8,928.5ZM1714.9,928.5 1714.9,928.0 1717.7,925.9 1728.0,925.9 1730.7,928.0 1730.7,928.5ZM1737.6,928.5 1737.6,928.0 1740.0,926.3 1745.2,924.9 1750.4,925.3 1755.5,927.0 1769.3,927.0 1774.5,925.6 1783.1,923.9 1796.9,923.9 1798.6,925.3 1807.2,925.9 1819.2,925.9 1821.0,927.0 1822.7,925.9 1829.6,925.9 1834.7,923.9 1846.8,923.9 1848.5,927.0 1852.6,928.0 1852.6,928.5ZM1864.0,928.5 1864.0,928.0 1867.5,926.3 1874.3,925.9 1877.8,923.9 1881.2,925.9 1889.8,926.3 1891.6,928.0 1891.6,928.5ZM1900.2,928.5 1900.2,928.0 1901.9,927.0 1910.5,927.0 1915.7,923.9 1926.0,921.1 1931.2,923.5 1938.0,923.9 1939.8,925.9 1963.9,927.0 1964.9,928.0 1964.9,928.5ZM1968.3,928.5 1968.3,928.0 1969.0,927.0 1982.8,927.0 1984.5,925.9 1994.9,925.9 1996.6,927.0 2000.0,925.9 2041.3,925.9 2043.1,927.0 2079.9,927.0 2079.9,928.0 2079.9,928.5ZM2480.0,928.5 2480.0,928.2 2480.0,925.0 2485.5,922.3 2496.1,921.4 2500.7,924.1 2507.5,922.7 2521.3,924.6 2525.9,925.9 2537.4,925.5 2539.7,924.6 2544.3,925.9 2548.9,925.0 2562.6,926.9 2599.4,926.9 2600.3,928.2 2600.3,928.5ZM2617.7,928.5 2617.7,928.2 2618.7,926.9 2631.5,926.9 2632.4,928.2 2632.4,928.5ZM2638.4,928.5 2638.4,928.2 2640.7,925.9 2656.8,925.9 2659.1,928.2 2659.1,928.5ZM2670.5,928.5 2670.5,928.2 2675.1,925.5 2682.0,924.1 2688.9,924.1 2702.7,922.7 2714.2,924.1 2723.3,927.3 2724.3,928.2 2724.3,928.5ZM2753.2,928.5 2753.2,928.2 2757.8,925.9 2770.2,925.9 2771.6,928.2 2771.6,928.5ZM2794.5,928.5 2794.5,928.2 2795.9,925.9 2808.3,925.9 2809.7,928.2 2809.7,928.5ZM2822.1,928.5 2822.1,928.2 2823.4,926.9 2834.5,926.9 2835.8,928.2 2835.8,928.5ZM2842.7,928.5 2842.7,928.2 2847.3,926.4 2854.2,925.0 2863.4,925.5 2875.8,927.3 2877.2,928.2 2877.2,928.5ZM2885.0,928.5 2885.0,928.2 2888.6,926.4 2893.2,925.5 2907.0,926.4 2909.3,928.2 2909.3,928.5ZM2916.2,928.5 2916.2,928.2 2917.1,926.9 2929.0,926.9 2930.0,928.2 2930.0,928.5ZM2935.5,928.5 2935.5,928.2 2939.1,926.4 2946.0,926.4 2952.9,928.2 2952.9,928.5ZM2959.8,928.5 2959.8,928.2 2962.1,926.9 2969.0,925.9 2985.1,925.5 2989.6,924.1 2996.5,925.5 2997.9,928.2 2997.9,928.5ZM3011.2,928.5 3011.2,928.2 3012.6,926.4 3019.5,926.4 3026.4,928.2 3026.4,928.5ZM3071.4,928.5 3071.4,928.2 3074.6,926.9 3081.5,925.9 3095.2,925.9 3102.1,928.2 3102.1,928.5ZM3142.1,928.5 3142.1,928.2 3143.5,926.9 3166.4,926.9 3173.3,925.5 3182.5,925.9 3189.4,928.2 3189.4,928.5ZM3223.8,928.5 3223.8,928.2 3228.4,926.4 3242.2,925.5 3251.3,926.4 3260.5,928.2 3260.5,928.5ZM3282.6,928.5 3282.6,928.2 3285.8,925.9 3311.0,925.5 3324.8,925.9 3327.1,928.2 3327.1,928.5ZM3357.0,928.5 3357.0,928.2 3360.6,925.9 3368.4,925.9 3370.7,926.9 3386.8,926.9 3391.4,928.2 3391.4,928.5ZM3400.6,928.5 3400.6,928.2 3403.8,925.0 3407.5,921.4 3412.0,922.7 3413.0,928.2 3413.0,928.5Z" fill="#8C510A"/>
<rect x="458" y="928.00" width="3096" height="1.05" fill="#000"/>
<rect x="149" y="926.60" width="12" height="3.8" fill="#333"/>
<rect x="149" y="887.98" width="12" height="3.8" fill="#333"/>
<rect x="149" y="849.35" width="12" height="3.8" fill="#333"/>
<rect x="149" y="810.73" width="12" height="3.8" fill="#333"/>
<rect x="149" y="772.10" width="12" height="3.8" fill="#333"/>
<text x="308.6" y="861.7" font-size="36.67" fill="#1A1A1A" text-anchor="middle">2 Div Fibro</text>
<path d="M2103.8,1106.8 2103.8,1105.9 2103.8,1105.1 2114.0,1104.2 2121.7,1103.4 2128.5,1102.2 2140.4,1101.3 2143.8,1095.7 2151.4,1090.6 2155.7,1088.1 2159.1,1090.1 2165.0,1090.6 2171.8,1085.5 2174.4,1080.9 2177.8,1080.4 2182.0,1074.5 2186.3,1072.8 2190.5,1069.4 2193.1,1066.3 2198.2,1070.2 2199.9,1068.0 2204.1,1073.6 2211.0,1075.3 2214.4,1081.6 2219.5,1074.1 2222.0,1080.9 2226.3,1080.9 2228.8,1079.2 2236.5,1084.3 2238.2,1078.7 2242.4,1072.8 2245.8,1044.7 2248.4,1037.0 2252.6,1030.2 2256.0,1022.6 2256.9,1027.7 2260.3,1024.3 2261.1,1031.9 2264.5,1041.3 2270.5,1054.0 2279.0,1066.8 2282.4,1065.1 2284.9,1064.3 2285.8,1054.9 2288.3,1045.5 2291.7,1003.0 2296.0,981.8 2301.1,973.3 2301.9,969.0 2305.3,965.3 2307.0,971.6 2309.6,972.4 2313.0,992.8 2318.1,1014.1 2319.8,1027.7 2321.5,1054.0 2325.7,1074.5 2330.0,1094.0 2334.3,1097.4 2336.8,1097.4 2340.2,1092.3 2344.5,1081.3 2347.9,1077.0 2355.5,1054.0 2357.2,1061.7 2360.6,1062.2 2364.0,1066.0 2367.4,1076.2 2370.8,1081.6 2376.8,1084.7 2381.0,1093.2 2384.4,1097.4 2389.5,1102.5 2401.4,1102.5 2408.2,1104.2 2415.0,1104.2 2432.9,1104.7 2472.9,1104.7 2480.0,1105.1 2480.0,1105.9 2480.0,1106.8ZM598.8,1106.8 598.8,1106.5 599.5,1105.1 612.6,1105.1 613.3,1106.5 613.3,1106.8ZM721.0,1106.8 721.0,1106.5 724.5,1105.1 730.7,1104.0 734.1,1102.7 739.3,1104.0 741.1,1105.1 748.6,1105.1 749.7,1106.5 749.7,1106.8ZM772.8,1106.8 772.8,1106.5 773.8,1105.1 783.2,1105.1 784.2,1106.5 784.2,1106.8ZM843.9,1106.8 843.9,1106.5 844.6,1105.1 850.8,1105.1 851.5,1106.5 851.5,1106.8ZM1017.9,1106.8 1017.9,1106.5 1018.9,1105.1 1030.3,1105.1 1031.0,1106.5 1031.0,1106.8ZM1036.2,1106.8 1036.2,1106.5 1037.2,1105.1 1048.3,1105.1 1049.0,1106.5 1049.0,1106.8ZM1070.7,1106.8 1070.7,1106.5 1071.7,1105.1 1076.6,1105.1 1077.6,1106.5 1077.6,1106.8ZM1095.9,1106.8 1095.9,1106.5 1099.4,1104.4 1108.7,1104.4 1113.2,1106.5 1113.2,1106.8ZM1128.7,1106.8 1128.7,1106.5 1129.7,1105.1 1142.2,1105.1 1143.2,1106.5 1143.2,1106.8ZM1216.7,1106.8 1216.7,1106.5 1219.1,1104.4 1224.3,1103.4 1231.2,1102.7 1234.7,1104.0 1245.0,1105.1 1245.7,1106.5 1245.7,1106.8ZM1249.2,1106.8 1249.2,1106.5 1250.2,1105.1 1254.7,1105.1 1255.4,1106.5 1255.4,1106.8ZM1265.0,1106.8 1265.0,1106.5 1265.7,1105.1 1269.9,1105.1 1269.9,1106.5 1269.9,1106.8ZM1270.0,1106.8 1270.0,1106.0 1270.0,1103.3 1276.2,1102.2 1278.6,1103.9 1283.8,1103.9 1284.5,1105.0 1291.3,1105.0 1292.4,1106.0 1292.4,1106.8ZM1327.9,1106.8 1327.9,1106.0 1328.5,1105.0 1352.0,1105.0 1352.6,1106.0 1352.6,1106.8ZM1356.8,1106.8 1356.8,1106.0 1357.8,1105.0 1363.0,1105.0 1364.7,1103.3 1369.9,1103.3 1375.0,1105.0 1376.1,1106.0 1376.1,1106.8ZM1386.4,1106.8 1386.4,1106.0 1387.1,1105.0 1403.6,1105.0 1406.0,1103.3 1411.9,1103.3 1414.6,1105.0 1420.8,1105.0 1421.5,1106.0 1421.5,1106.8ZM1485.2,1106.8 1485.2,1106.0 1488.7,1104.3 1495.6,1104.3 1497.3,1105.0 1510.4,1105.0 1511.0,1106.0 1511.0,1106.8ZM1530.0,1106.8 1530.0,1106.0 1531.0,1105.0 1536.9,1105.0 1538.6,1103.3 1542.0,1103.9 1545.5,1105.0 1548.2,1103.3 1550.6,1104.3 1558.6,1104.3 1561.0,1106.0 1561.0,1106.8ZM1573.0,1106.8 1573.0,1106.0 1573.7,1105.0 1590.2,1105.0 1590.9,1106.0 1590.9,1106.8ZM1603.3,1106.8 1603.3,1106.0 1604.0,1105.0 1615.0,1105.0 1616.1,1106.0 1616.1,1106.8ZM1650.5,1106.8 1650.5,1106.0 1651.5,1105.0 1674.6,1105.0 1675.6,1106.0 1675.6,1106.8ZM1679.1,1106.8 1679.1,1106.0 1679.8,1105.0 1695.3,1105.0 1696.3,1106.0 1696.3,1106.8ZM1697.7,1106.8 1697.7,1106.0 1698.7,1105.0 1704.6,1105.0 1705.6,1106.0 1705.6,1106.8ZM1795.1,1106.8 1795.1,1106.0 1796.2,1105.0 1810.6,1105.0 1811.3,1106.0 1811.3,1106.8ZM1814.1,1106.8 1814.1,1106.0 1814.8,1105.0 1830.6,1105.0 1832.0,1103.9 1834.7,1105.0 1838.2,1105.0 1838.9,1106.0 1838.9,1106.8ZM1864.0,1106.8 1864.0,1106.0 1865.0,1105.0 1895.0,1105.0 1896.0,1103.9 1898.4,1105.0 1912.2,1105.0 1913.3,1106.0 1913.3,1106.8ZM1916.7,1106.8 1916.7,1106.0 1917.4,1105.0 1927.7,1105.0 1928.4,1106.0 1928.4,1106.8ZM1938.0,1106.8 1938.0,1106.0 1938.7,1105.0 1960.4,1105.0 1961.5,1106.0 1961.5,1106.8ZM1968.3,1106.8 1968.3,1106.0 1969.7,1105.0 1977.6,1103.3 1988.0,1103.3 1989.7,1103.9 2012.1,1103.3 2013.8,1105.0 2016.6,1106.0 2016.6,1106.8ZM2038.6,1106.8 2038.6,1106.0 2039.6,1105.0 2050.0,1105.0 2051.0,1106.0 2051.0,1106.8ZM2067.2,1106.8 2067.2,1106.0 2068.2,1105.0 2072.3,1105.0 2073.0,1106.0 2073.0,1106.8ZM2480.0,1106.8 2480.0,1106.2 2480.0,1104.9 2499.3,1104.9 2500.7,1106.2 2500.7,1106.8ZM2522.2,1106.8 2522.2,1106.2 2523.6,1104.9 2544.3,1104.9 2545.2,1106.2 2545.2,1106.8ZM2564.9,1106.8 2564.9,1106.2 2567.2,1103.9 2571.8,1103.9 2574.1,1104.9 2578.7,1104.9 2580.1,1106.2 2580.1,1106.8ZM2603.0,1106.8 2603.0,1106.2 2604.0,1104.9 2616.8,1104.9 2617.7,1106.2 2617.7,1106.8ZM2678.3,1106.8 2678.3,1106.2 2679.7,1104.9 2685.7,1104.9 2686.6,1106.2 2686.6,1106.8ZM2715.1,1106.8 2715.1,1106.2 2716.5,1104.9 2727.9,1104.9 2728.9,1106.2 2728.9,1106.8ZM2751.8,1106.8 2751.8,1106.2 2753.2,1104.9 2760.1,1104.9 2761.0,1106.2 2761.0,1106.8ZM2764.7,1106.8 2764.7,1106.2 2765.6,1104.9 2776.1,1104.9 2777.5,1106.2 2777.5,1106.8ZM2819.8,1106.8 2819.8,1106.2 2820.7,1104.9 2826.6,1104.9 2828.0,1106.2 2828.0,1106.8ZM2849.6,1106.8 2849.6,1106.2 2851.0,1104.9 2862.0,1104.9 2863.4,1106.2 2863.4,1106.8ZM2910.7,1106.8 2910.7,1106.2 2911.6,1104.9 2927.7,1104.9 2929.0,1106.2 2929.0,1106.8ZM2943.7,1106.8 2943.7,1106.2 2948.3,1103.9 2957.5,1102.6 2962.1,1103.5 2971.3,1103.9 2974.9,1106.2 2974.9,1106.8ZM2999.7,1106.8 2999.7,1106.2 3001.1,1103.9 3012.6,1103.9 3013.5,1104.9 3035.6,1104.9 3036.9,1106.2 3036.9,1106.8ZM3045.7,1106.8 3045.7,1106.2 3047.0,1104.9 3060.8,1104.9 3062.2,1106.2 3062.2,1106.8ZM3080.6,1106.8 3080.6,1106.2 3081.5,1104.9 3086.1,1104.9 3087.0,1106.2 3087.0,1106.8ZM3119.1,1106.8 3119.1,1106.2 3120.5,1104.9 3137.5,1104.9 3138.9,1106.2 3138.9,1106.8ZM3212.3,1106.8 3212.3,1106.2 3213.7,1104.9 3222.9,1104.9 3223.8,1106.2 3223.8,1106.8Z" fill="#F46D43"/>
<rect x="458" y="1106.25" width="3096" height="1.05" fill="#000"/>
<rect x="149" y="1104.85" width="12" height="3.8" fill="#333"/>
<rect x="149" y="1066.22" width="12" height="3.8" fill="#333"/>
<rect x="149" y="1027.60" width="12" height="3.8" fill="#333"/>
<rect x="149" y="988.98" width="12" height="3.8" fill="#333"/>
<rect x="149" y="950.35" width="12" height="3.8" fill="#333"/>
<text x="308.6" y="1039.8" font-size="36.67" fill="#1A1A1A" text-anchor="middle">0 RF</text>
<path d="M2114.0,1285.0 2114.0,1283.9 2114.0,1283.1 2120.8,1280.5 2125.1,1279.3 2129.3,1279.7 2133.6,1281.9 2142.1,1281.9 2145.5,1280.5 2149.7,1280.5 2151.4,1277.1 2157.4,1275.4 2165.0,1276.8 2171.8,1270.3 2175.2,1268.1 2182.9,1261.3 2186.3,1264.0 2192.2,1264.4 2195.6,1268.1 2199.9,1270.3 2201.6,1269.1 2204.1,1273.7 2208.4,1273.2 2211.0,1274.6 2212.7,1270.3 2219.5,1262.3 2223.7,1262.3 2226.3,1258.4 2230.5,1259.3 2233.9,1265.2 2238.2,1263.5 2240.7,1260.6 2243.3,1251.6 2246.7,1235.4 2250.1,1223.5 2251.8,1218.4 2255.2,1198.0 2257.7,1198.0 2264.5,1212.5 2267.9,1237.1 2272.2,1242.3 2275.6,1248.2 2278.1,1245.7 2285.8,1225.2 2288.3,1204.8 2290.9,1201.4 2293.4,1181.0 2296.8,1164.0 2300.2,1168.8 2306.2,1158.6 2309.6,1165.7 2313.0,1181.0 2316.4,1194.6 2318.9,1206.5 2320.6,1221.0 2322.3,1247.4 2325.7,1259.3 2330.9,1272.0 2334.3,1273.7 2336.8,1278.0 2340.2,1273.7 2343.6,1266.9 2346.2,1266.1 2352.1,1244.0 2355.5,1242.3 2358.9,1249.1 2361.5,1249.1 2364.9,1253.3 2367.4,1264.4 2370.8,1270.3 2374.2,1272.9 2380.2,1276.3 2382.7,1279.7 2387.8,1281.0 2392.1,1279.3 2402.3,1280.5 2406.5,1282.7 2417.6,1282.2 2427.8,1281.4 2430.3,1282.2 2455.9,1282.2 2457.6,1283.1 2471.2,1283.1 2472.9,1282.2 2480.0,1282.2 2480.0,1283.9 2480.0,1285.0ZM617.5,1285.0 617.5,1284.5 618.5,1283.1 629.9,1283.1 630.6,1282.0 632.3,1283.1 642.7,1283.1 644.4,1282.0 647.2,1283.1 654.1,1283.1 655.4,1282.0 658.2,1283.1 668.6,1283.1 669.3,1284.5 669.3,1285.0ZM696.2,1285.0 696.2,1284.5 696.9,1283.1 702.4,1283.1 703.1,1284.5 703.1,1285.0ZM734.8,1285.0 734.8,1284.5 738.3,1282.4 748.6,1282.0 750.7,1280.0 754.9,1280.7 760.0,1282.0 765.2,1283.8 765.9,1284.5 765.9,1285.0ZM803.2,1285.0 803.2,1284.5 804.9,1283.1 808.4,1282.0 813.5,1282.4 817.0,1284.5 817.0,1285.0ZM943.0,1285.0 943.0,1284.5 944.0,1283.1 953.3,1283.1 954.4,1284.5 954.4,1285.0ZM955.8,1285.0 955.8,1284.5 956.8,1283.1 967.1,1282.4 975.8,1280.0 982.7,1280.7 989.6,1282.0 999.9,1282.4 1001.7,1284.5 1001.7,1285.0ZM1017.9,1285.0 1017.9,1284.5 1020.7,1282.4 1043.1,1282.4 1044.8,1283.1 1054.5,1283.1 1055.2,1284.5 1055.2,1285.0ZM1100.7,1285.0 1100.7,1284.5 1101.8,1283.1 1113.2,1283.1 1113.9,1284.5 1113.9,1285.0ZM1131.8,1285.0 1131.8,1284.5 1136.3,1282.4 1144.9,1281.4 1150.1,1282.4 1157.0,1281.4 1160.5,1282.4 1181.2,1282.4 1182.9,1283.1 1188.1,1282.4 1193.2,1282.0 1201.9,1281.4 1203.6,1283.1 1215.7,1283.1 1216.7,1284.5 1216.7,1285.0ZM1227.1,1285.0 1227.1,1284.5 1227.8,1282.4 1239.8,1282.4 1241.6,1284.5 1241.6,1285.0ZM1245.7,1285.0 1245.7,1284.5 1251.2,1282.4 1269.9,1282.4 1269.9,1284.5 1269.9,1285.0ZM1270.0,1285.0 1270.0,1284.0 1270.0,1283.0 1271.7,1283.0 1272.8,1284.0 1272.8,1285.0ZM1277.6,1285.0 1277.6,1284.0 1280.3,1282.3 1283.8,1283.0 1288.9,1281.9 1291.3,1281.3 1297.5,1281.9 1302.7,1284.0 1302.7,1285.0ZM1321.0,1285.0 1321.0,1284.0 1321.7,1283.0 1327.9,1283.0 1328.5,1284.0 1328.5,1285.0ZM1361.3,1285.0 1361.3,1284.0 1363.0,1282.3 1368.1,1283.0 1373.3,1281.9 1381.9,1280.9 1385.4,1279.9 1388.8,1281.9 1395.7,1280.2 1400.9,1281.6 1407.7,1281.9 1409.5,1284.0 1409.5,1285.0ZM1437.0,1285.0 1437.0,1284.0 1438.0,1283.0 1447.3,1283.0 1448.4,1284.0 1448.4,1285.0ZM1467.0,1285.0 1467.0,1284.0 1469.7,1281.9 1490.4,1281.9 1492.1,1283.0 1505.9,1283.0 1507.6,1281.9 1519.7,1282.3 1521.4,1284.0 1521.4,1285.0ZM1524.8,1285.0 1524.8,1284.0 1526.5,1281.9 1550.6,1281.9 1555.8,1279.9 1561.0,1281.6 1564.4,1284.0 1564.4,1285.0ZM1597.8,1285.0 1597.8,1284.0 1598.9,1283.0 1607.5,1281.9 1614.4,1281.9 1616.1,1283.0 1621.9,1283.0 1623.0,1284.0 1623.0,1285.0ZM1633.3,1285.0 1633.3,1284.0 1634.3,1283.0 1637.8,1283.0 1638.5,1284.0 1638.5,1285.0ZM1746.9,1285.0 1746.9,1284.0 1750.4,1281.9 1755.5,1281.9 1757.3,1283.0 1762.4,1282.3 1774.5,1282.3 1777.9,1284.0 1777.9,1285.0ZM1783.8,1285.0 1783.8,1284.0 1786.5,1282.3 1795.1,1281.9 1796.9,1281.3 1800.3,1282.3 1814.1,1283.0 1815.8,1284.0 1815.8,1285.0ZM1826.1,1285.0 1826.1,1284.0 1831.3,1280.9 1836.5,1279.9 1841.6,1280.9 1845.8,1284.0 1845.8,1285.0ZM1876.7,1285.0 1876.7,1284.0 1879.5,1281.9 1903.6,1282.3 1906.4,1284.0 1906.4,1285.0ZM1947.7,1285.0 1947.7,1284.0 1948.4,1283.0 1952.5,1283.0 1953.5,1284.0 1953.5,1285.0ZM1956.0,1285.0 1956.0,1284.0 1957.0,1283.0 1969.0,1282.3 1979.4,1281.9 1988.0,1280.6 1993.1,1279.9 2000.0,1281.6 2006.9,1283.0 2008.6,1284.0 2008.6,1285.0ZM2013.1,1285.0 2013.1,1284.0 2015.5,1282.3 2022.4,1279.9 2027.6,1277.8 2035.2,1276.4 2043.1,1277.5 2050.0,1278.8 2055.1,1280.9 2062.0,1283.0 2065.5,1284.0 2065.5,1285.0ZM2070.6,1285.0 2070.6,1284.0 2072.3,1283.0 2079.9,1283.0 2079.9,1284.0 2079.9,1285.0ZM2480.0,1285.0 2480.0,1284.2 2480.0,1282.4 2485.5,1282.4 2486.9,1283.3 2489.2,1282.4 2490.1,1284.2 2490.1,1285.0ZM2512.1,1285.0 2512.1,1284.2 2516.7,1281.0 2523.6,1282.4 2534.2,1282.4 2535.1,1279.2 2544.3,1279.2 2548.9,1283.3 2549.8,1284.2 2549.8,1285.0ZM2587.9,1285.0 2587.9,1284.2 2589.3,1282.9 2597.1,1282.9 2601.7,1279.2 2610.9,1276.4 2620.0,1278.7 2626.9,1282.4 2636.1,1283.3 2638.4,1282.4 2656.8,1282.4 2659.1,1283.3 2668.2,1283.3 2669.2,1282.4 2671.9,1283.3 2672.8,1284.2 2672.8,1285.0ZM2696.7,1285.0 2696.7,1284.2 2698.1,1282.9 2705.9,1282.9 2707.3,1284.2 2707.3,1285.0ZM2716.5,1285.0 2716.5,1284.2 2717.8,1282.9 2725.6,1281.9 2728.9,1282.9 2730.2,1284.2 2730.2,1285.0ZM2757.8,1285.0 2757.8,1284.2 2759.2,1282.9 2770.2,1282.9 2771.6,1284.2 2771.6,1285.0ZM2779.4,1285.0 2779.4,1284.2 2780.7,1282.9 2786.7,1282.9 2787.6,1284.2 2787.6,1285.0ZM2845.0,1285.0 2845.0,1284.2 2847.3,1282.4 2854.2,1282.4 2858.8,1284.2 2858.8,1285.0ZM3008.9,1285.0 3008.9,1284.2 3010.3,1282.9 3017.2,1282.9 3018.1,1284.2 3018.1,1285.0ZM3068.6,1285.0 3068.6,1284.2 3070.0,1282.4 3072.3,1283.3 3082.4,1283.3 3083.8,1284.2 3083.8,1285.0ZM3155.8,1285.0 3155.8,1284.2 3158.6,1282.4 3164.1,1282.4 3167.3,1284.2 3167.3,1285.0ZM3245.8,1285.0 3245.8,1284.2 3249.1,1282.4 3255.9,1282.4 3260.5,1283.3 3262.8,1284.2 3262.8,1285.0ZM3287.2,1285.0 3287.2,1284.2 3288.1,1282.9 3297.3,1282.4 3306.4,1279.6 3311.0,1281.0 3314.7,1284.2 3314.7,1285.0ZM3334.9,1285.0 3334.9,1284.2 3336.3,1282.9 3343.2,1282.4 3348.7,1283.3 3352.4,1282.4 3361.5,1282.4 3363.8,1284.2 3363.8,1285.0ZM3393.7,1285.0 3393.7,1284.2 3396.0,1282.9 3407.5,1282.4 3408.4,1277.4 3412.0,1277.4 3413.0,1284.2 3413.0,1285.0Z" fill="#D73027"/>
<rect x="458" y="1284.50" width="3096" height="1.05" fill="#000"/>
<rect x="149" y="1283.10" width="12" height="3.8" fill="#333"/>
<rect x="149" y="1244.47" width="12" height="3.8" fill="#333"/>
<rect x="149" y="1205.85" width="12" height="3.8" fill="#333"/>
<rect x="149" y="1167.22" width="12" height="3.8" fill="#333"/>
<rect x="149" y="1128.60" width="12" height="3.8" fill="#333"/>
<text x="308.6" y="1218.0" font-size="36.67" fill="#1A1A1A" text-anchor="middle">4 RF</text>
<path d="M2103.8,1463.2 2103.8,1461.9 2103.8,1456.8 2116.6,1456.8 2120.8,1461.1 2125.1,1461.1 2128.5,1456.0 2131.9,1450.9 2138.7,1450.9 2141.2,1456.0 2142.1,1450.9 2144.6,1450.9 2148.0,1456.8 2149.7,1450.9 2157.4,1444.9 2165.9,1444.9 2167.6,1433.9 2169.3,1427.9 2175.2,1422.0 2178.6,1416.9 2180.3,1403.2 2182.9,1381.1 2183.7,1359.9 2186.3,1348.8 2188.0,1325.9 2189.7,1331.8 2191.4,1313.1 2192.2,1303.8 2193.9,1310.6 2195.6,1327.6 2197.3,1348.8 2199.9,1372.6 2201.6,1411.7 2206.7,1422.0 2208.4,1428.8 2212.7,1437.3 2216.1,1444.9 2217.8,1433.9 2221.2,1429.1 2224.6,1439.8 2230.5,1440.7 2233.9,1451.7 2237.3,1456.8 2243.3,1441.5 2248.4,1413.4 2251.8,1393.0 2254.3,1369.2 2256.0,1359.0 2256.9,1342.9 2259.4,1343.7 2261.1,1359.9 2265.4,1360.4 2267.1,1370.9 2268.8,1383.7 2271.3,1418.6 2273.9,1440.7 2277.3,1446.6 2278.1,1456.8 2280.7,1456.8 2284.1,1450.0 2285.8,1422.8 2288.3,1422.0 2290.0,1399.8 2292.6,1393.0 2295.1,1365.8 2298.5,1361.1 2300.2,1370.9 2302.8,1383.7 2305.3,1387.9 2306.2,1367.5 2308.7,1372.6 2311.3,1376.9 2313.8,1370.9 2319.8,1371.8 2321.5,1393.0 2323.2,1422.8 2325.7,1427.1 2328.3,1444.1 2332.6,1456.8 2342.8,1456.8 2343.6,1450.0 2348.7,1444.9 2353.0,1427.1 2356.4,1418.2 2358.9,1422.8 2362.3,1423.7 2367.4,1439.0 2370.8,1445.8 2371.7,1451.7 2375.9,1456.8 2379.3,1452.2 2381.0,1456.8 2404.8,1456.8 2404.8,1461.9 2404.8,1463.2ZM627.1,1463.2 627.1,1462.5 628.2,1457.0 641.6,1457.0 642.7,1462.5 642.7,1463.2ZM644.4,1463.2 644.4,1462.5 645.4,1459.4 648.9,1459.4 649.6,1451.1 656.5,1451.1 656.5,1444.9 659.9,1445.6 661.7,1451.8 666.8,1457.0 672.0,1462.5 672.0,1463.2ZM1105.2,1463.2 1105.2,1462.5 1108.7,1457.0 1116.6,1457.0 1120.1,1462.5 1120.1,1463.2ZM1155.3,1463.2 1155.3,1462.5 1158.0,1457.0 1169.8,1457.0 1172.5,1462.5 1172.5,1463.2ZM1245.0,1463.2 1245.0,1462.5 1245.0,1457.0 1258.8,1457.0 1260.6,1462.5 1260.6,1463.2ZM1277.8,1463.2 1277.8,1462.2 1277.8,1456.9 1291.9,1456.9 1292.9,1462.2 1292.9,1463.2ZM1390.0,1463.2 1390.0,1462.2 1395.3,1456.9 1402.3,1456.9 1403.4,1451.3 1406.9,1451.3 1408.3,1456.9 1411.1,1456.9 1417.5,1462.2 1417.5,1463.2ZM1521.2,1463.2 1521.2,1462.2 1523.4,1456.9 1537.5,1456.9 1538.9,1462.2 1538.9,1463.2ZM1569.2,1463.2 1569.2,1462.2 1569.2,1456.9 1577.0,1456.9 1584.7,1462.2 1584.7,1463.2ZM1732.9,1463.2 1732.9,1462.2 1735.1,1456.9 1744.6,1456.9 1744.6,1451.3 1749.9,1451.3 1755.2,1445.3 1760.5,1451.3 1762.2,1456.9 1767.5,1456.9 1769.3,1462.2 1769.3,1463.2ZM1777.4,1463.2 1777.4,1462.2 1778.8,1456.9 1784.5,1456.9 1784.5,1451.3 1792.9,1451.3 1795.8,1445.3 1799.3,1445.3 1801.1,1451.3 1808.1,1451.3 1810.6,1462.2 1810.6,1463.2ZM1825.8,1463.2 1825.8,1462.2 1831.0,1456.9 1843.4,1456.9 1849.7,1462.2 1849.7,1463.2ZM1867.0,1463.2 1867.0,1462.2 1873.4,1452.3 1879.7,1445.3 1884.7,1452.3 1887.5,1456.9 1894.6,1456.9 1896.3,1462.2 1896.3,1463.2ZM1934.1,1463.2 1934.1,1462.2 1940.4,1456.9 1945.7,1456.9 1946.8,1451.3 1950.3,1451.3 1950.3,1445.3 1951.7,1451.3 1958.1,1451.3 1965.1,1456.9 1965.1,1462.2 1965.1,1463.2ZM1982.1,1463.2 1982.1,1462.2 1982.1,1451.3 1995.1,1451.3 1998.7,1462.2 1998.7,1463.2ZM2022.6,1463.2 2022.6,1462.2 2024.4,1456.9 2036.4,1456.9 2037.5,1462.2 2037.5,1463.2ZM2456.7,1463.2 2456.7,1461.9 2457.6,1450.9 2469.5,1450.9 2474.6,1461.1 2476.3,1461.9 2476.3,1463.2ZM2483.4,1463.2 2483.4,1461.9 2491.8,1445.5 2504.4,1445.5 2507.7,1451.1 2509.1,1439.9 2512.4,1433.8 2518.5,1433.8 2520.8,1417.4 2525.5,1424.4 2529.2,1418.4 2534.8,1431.4 2539.5,1439.9 2543.3,1443.1 2545.1,1457.2 2548.9,1461.9 2548.9,1463.2ZM2557.3,1463.2 2557.3,1461.9 2565.2,1453.9 2571.3,1451.1 2580.7,1461.9 2580.7,1463.2ZM2614.3,1463.2 2614.3,1461.9 2621.4,1454.8 2624.6,1451.1 2629.3,1454.8 2636.8,1461.9 2636.8,1463.2ZM2647.1,1463.2 2647.1,1461.9 2651.8,1451.1 2662.1,1451.1 2666.7,1461.9 2666.7,1463.2ZM2741.6,1463.2 2741.6,1461.9 2745.3,1457.2 2754.7,1457.2 2757.9,1461.9 2757.9,1463.2ZM2800.5,1463.2 2800.5,1461.9 2806.1,1451.1 2814.5,1451.1 2821.1,1461.9 2821.1,1463.2ZM2866.0,1463.2 2866.0,1461.9 2870.7,1453.9 2875.3,1451.1 2880.0,1455.8 2902.0,1455.8 2903.4,1461.9 2903.4,1463.2ZM2947.4,1463.2 2947.4,1461.9 2950.2,1457.2 2959.5,1457.2 2961.4,1452.5 2966.1,1457.2 2973.6,1457.2 2978.2,1461.9 2978.2,1463.2ZM2981.5,1463.2 2981.5,1461.9 2982.9,1457.2 2988.5,1451.1 2994.1,1452.5 3001.6,1461.9 3001.6,1463.2ZM3105.5,1463.2 3105.5,1461.9 3110.1,1457.2 3117.2,1457.2 3121.8,1461.9 3121.8,1463.2ZM3156.0,1463.2 3156.0,1461.9 3160.7,1452.5 3170.0,1452.5 3175.6,1461.9 3175.6,1463.2ZM3184.0,1463.2 3184.0,1461.9 3190.6,1457.2 3198.1,1457.2 3202.8,1461.9 3202.8,1463.2ZM3276.2,1463.2 3276.2,1461.9 3279.5,1457.2 3288.8,1457.2 3291.6,1461.9 3291.6,1463.2ZM3325.3,1463.2 3325.3,1461.9 3329.0,1457.2 3337.0,1457.2 3341.7,1461.9 3341.7,1463.2ZM3358.0,1463.2 3358.0,1461.9 3365.1,1451.1 3371.1,1454.8 3377.7,1457.2 3377.7,1461.9 3377.7,1463.2ZM3389.8,1463.2 3389.8,1461.9 3393.1,1457.2 3404.8,1457.2 3404.8,1455.8 3411.8,1457.2 3411.8,1461.9 3411.8,1463.2Z" fill="#A50026"/>
<rect x="458" y="1462.75" width="3096" height="1.05" fill="#000"/>
<rect x="149" y="1461.35" width="12" height="3.8" fill="#333"/>
<rect x="149" y="1422.72" width="12" height="3.8" fill="#333"/>
<rect x="149" y="1384.10" width="12" height="3.8" fill="#333"/>
<rect x="149" y="1345.47" width="12" height="3.8" fill="#333"/>
<rect x="149" y="1306.85" width="12" height="3.8" fill="#333"/>
<text x="308.6" y="1396.1" font-size="36.67" fill="#1A1A1A" text-anchor="middle">8 Pre-Adipocyte</text>
<path d="M2142.1,1641.5 2142.1,1641.1 2148.9,1634.3 2153.1,1632.6 2159.1,1630.6 2165.0,1630.6 2168.4,1627.2 2171.8,1623.4 2178.6,1623.8 2182.0,1616.1 2188.0,1616.1 2190.5,1613.2 2194.8,1611.0 2197.3,1615.3 2199.9,1615.3 2201.6,1621.2 2205.0,1621.2 2207.6,1620.4 2211.8,1618.3 2216.1,1609.3 2221.2,1605.9 2224.6,1608.5 2228.0,1607.1 2233.1,1613.6 2235.6,1613.6 2240.7,1606.4 2244.1,1605.9 2245.8,1595.7 2249.2,1586.3 2250.9,1566.8 2253.5,1560.8 2258.6,1552.3 2260.3,1545.2 2261.1,1552.3 2265.4,1558.3 2268.8,1571.0 2272.2,1577.8 2274.7,1587.2 2279.8,1591.4 2282.4,1591.4 2284.9,1570.2 2287.5,1567.6 2290.9,1542.1 2294.3,1523.4 2296.8,1513.2 2299.4,1506.8 2300.2,1518.3 2304.5,1517.5 2306.2,1527.7 2308.7,1533.6 2312.1,1552.3 2316.4,1561.7 2318.9,1574.4 2321.5,1588.0 2323.2,1603.4 2328.3,1605.1 2330.0,1613.6 2335.1,1624.6 2339.4,1625.5 2346.2,1631.4 2347.0,1626.3 2353.8,1619.5 2358.9,1611.0 2362.3,1613.2 2364.9,1616.1 2367.4,1623.8 2370.8,1628.9 2373.4,1629.7 2376.8,1635.7 2381.0,1637.4 2397.2,1637.4 2402.3,1639.9 2404.8,1639.1 2413.3,1638.7 2415.9,1638.2 2425.2,1639.9 2425.2,1641.1 2425.2,1641.5ZM2110.6,1641.5 2110.6,1641.1 2115.7,1639.1 2125.9,1639.1 2128.5,1641.1 2128.5,1641.5ZM2431.2,1641.5 2431.2,1641.1 2432.0,1639.1 2443.9,1639.1 2445.6,1641.1 2445.6,1641.5ZM2455.0,1641.5 2455.0,1641.1 2457.6,1639.1 2467.8,1639.1 2471.2,1640.4 2472.9,1641.1 2472.9,1641.5ZM623.0,1641.5 623.0,1641.5 627.1,1638.7 635.8,1637.0 640.9,1639.4 644.4,1636.0 653.0,1636.0 655.4,1633.9 659.9,1636.7 668.6,1637.4 671.3,1639.4 678.9,1640.1 679.6,1641.5 679.6,1641.5ZM716.2,1641.5 716.2,1641.5 717.6,1640.1 727.2,1640.1 727.9,1641.5 727.9,1641.5ZM744.5,1641.5 744.5,1641.5 748.0,1639.1 753.1,1638.0 758.3,1638.7 763.5,1640.1 766.9,1639.1 770.4,1640.1 780.7,1640.1 781.8,1641.5 781.8,1641.5ZM834.3,1641.5 834.3,1641.5 835.3,1640.1 846.3,1640.1 847.4,1641.5 847.4,1641.5ZM877.4,1641.5 877.4,1641.5 878.4,1640.1 887.8,1640.1 888.8,1641.5 888.8,1641.5ZM924.0,1641.5 924.0,1641.5 927.5,1639.4 934.4,1638.4 941.3,1638.7 948.2,1641.5 948.2,1641.5ZM958.5,1641.5 958.5,1641.5 960.2,1639.4 968.9,1638.0 972.3,1639.4 979.2,1640.1 979.9,1641.5 979.9,1641.5ZM1006.8,1641.5 1006.8,1641.5 1008.6,1640.1 1015.5,1639.4 1024.1,1638.7 1032.7,1640.1 1033.8,1641.5 1033.8,1641.5ZM1041.4,1641.5 1041.4,1641.5 1043.1,1640.1 1051.7,1639.1 1067.3,1638.7 1088.0,1638.4 1089.7,1640.1 1102.8,1640.1 1103.5,1637.4 1117.3,1637.4 1119.0,1638.0 1143.2,1638.0 1148.4,1637.4 1151.8,1638.4 1158.7,1638.4 1162.2,1640.1 1177.7,1640.1 1178.7,1641.5 1178.7,1641.5ZM1189.8,1641.5 1189.8,1641.5 1191.5,1639.4 1203.6,1638.4 1214.0,1639.4 1217.4,1641.5 1217.4,1641.5ZM1223.6,1641.5 1223.6,1641.5 1227.8,1639.4 1236.4,1636.0 1241.6,1636.7 1251.9,1638.7 1269.9,1638.7 1269.9,1641.5 1269.9,1641.5ZM1270.0,1641.5 1270.0,1641.0 1270.0,1638.6 1275.2,1637.9 1278.6,1640.0 1283.8,1639.0 1301.0,1639.0 1302.7,1640.0 1311.3,1640.0 1312.0,1641.0 1312.0,1641.5ZM1352.6,1641.5 1352.6,1641.0 1353.3,1640.0 1368.1,1640.0 1369.9,1639.3 1397.4,1639.3 1398.1,1641.0 1398.1,1641.5ZM1409.5,1641.5 1409.5,1641.0 1410.5,1640.0 1418.8,1640.0 1419.8,1641.0 1419.8,1641.5ZM1432.5,1641.5 1432.5,1641.0 1433.6,1640.0 1445.6,1640.0 1446.3,1641.0 1446.3,1641.5ZM1473.9,1641.5 1473.9,1641.0 1476.6,1640.0 1481.8,1639.0 1488.7,1638.3 1493.8,1639.0 1500.7,1640.0 1501.4,1641.0 1501.4,1641.5ZM1524.8,1641.5 1524.8,1641.0 1525.5,1640.0 1538.6,1640.0 1539.3,1641.0 1539.3,1641.5ZM1624.7,1641.5 1624.7,1641.0 1626.4,1640.0 1638.5,1640.0 1639.1,1641.0 1639.1,1641.5ZM1646.0,1641.5 1646.0,1641.0 1648.8,1639.3 1654.0,1638.6 1657.4,1637.9 1662.6,1639.3 1665.3,1641.0 1665.3,1641.5ZM1675.6,1641.5 1675.6,1641.0 1678.1,1639.3 1688.4,1639.3 1690.1,1640.0 1698.7,1639.3 1710.8,1639.3 1714.2,1640.0 1717.0,1637.3 1721.1,1637.3 1722.8,1638.6 1738.3,1638.6 1740.0,1637.9 1742.5,1639.3 1755.5,1640.0 1763.1,1639.3 1764.1,1636.9 1777.9,1636.6 1779.6,1635.9 1786.5,1637.6 1791.7,1636.9 1795.1,1637.9 1805.5,1638.6 1807.9,1641.0 1807.9,1641.5ZM1823.7,1641.5 1823.7,1641.0 1825.1,1640.0 1837.5,1640.0 1838.9,1641.0 1838.9,1641.5ZM1844.4,1641.5 1844.4,1641.0 1846.8,1639.3 1855.4,1639.0 1861.6,1640.0 1862.3,1641.0 1862.3,1641.5ZM1869.9,1641.5 1869.9,1641.0 1870.9,1640.0 1884.7,1640.0 1885.7,1641.0 1885.7,1641.5ZM1895.0,1641.5 1895.0,1641.0 1900.2,1637.6 1910.5,1636.9 1917.4,1641.0 1917.4,1641.5ZM1921.5,1641.5 1921.5,1641.0 1924.3,1638.6 1934.6,1636.9 1939.8,1639.3 1943.2,1641.0 1943.2,1641.5ZM1999.3,1641.5 1999.3,1641.0 2000.0,1640.0 2003.5,1639.3 2013.8,1640.0 2014.5,1641.0 2014.5,1641.5ZM2024.8,1641.5 2024.8,1641.0 2027.6,1639.3 2034.5,1638.6 2041.3,1635.9 2046.5,1634.5 2051.7,1636.6 2056.8,1635.9 2062.0,1638.6 2068.2,1640.0 2068.9,1641.0 2068.9,1641.5ZM2480.0,1641.5 2480.0,1641.2 2480.0,1639.8 2500.7,1639.8 2503.0,1638.9 2509.8,1638.4 2516.7,1633.8 2521.3,1631.1 2525.9,1626.5 2530.5,1628.3 2535.1,1632.0 2542.0,1634.7 2548.9,1638.4 2555.8,1639.3 2560.3,1639.8 2562.6,1637.9 2567.2,1636.1 2571.8,1636.6 2576.4,1638.4 2581.0,1639.8 2594.8,1639.8 2595.7,1641.2 2595.7,1641.5ZM2601.7,1641.5 2601.7,1641.2 2604.0,1638.9 2613.1,1637.0 2620.0,1638.9 2622.3,1641.2 2622.3,1641.5ZM2681.1,1641.5 2681.1,1641.2 2682.0,1639.3 2695.8,1639.3 2705.0,1640.2 2705.9,1641.2 2705.9,1641.5ZM2740.8,1641.5 2740.8,1641.2 2741.7,1639.8 2754.6,1639.8 2755.5,1641.2 2755.5,1641.5ZM2770.2,1641.5 2770.2,1641.2 2772.9,1639.3 2783.0,1637.9 2787.6,1639.8 2792.2,1638.9 2800.5,1639.8 2801.4,1641.2 2801.4,1641.5ZM2817.5,1641.5 2817.5,1641.2 2818.8,1639.8 2828.0,1639.8 2828.9,1641.2 2828.9,1641.5ZM2886.3,1641.5 2886.3,1641.2 2887.7,1639.8 2898.7,1639.8 2900.1,1641.2 2900.1,1641.5ZM2933.6,1641.5 2933.6,1641.2 2934.5,1639.8 2946.0,1639.8 2947.4,1641.2 2947.4,1641.5ZM2965.8,1641.5 2965.8,1641.2 2966.7,1639.8 2975.9,1639.8 2976.8,1641.2 2976.8,1641.5ZM2987.3,1641.5 2987.3,1641.2 2988.7,1639.8 2999.7,1639.8 3001.1,1641.2 3001.1,1641.5ZM3059.4,1641.5 3059.4,1641.2 3060.8,1639.8 3070.0,1639.8 3071.4,1641.2 3071.4,1641.5ZM3080.6,1641.5 3080.6,1641.2 3081.5,1639.8 3122.8,1639.8 3123.7,1641.2 3123.7,1641.5ZM3244.5,1641.5 3244.5,1641.2 3245.8,1639.8 3255.9,1639.8 3256.9,1641.2 3256.9,1641.5ZM3272.0,1641.5 3272.0,1641.2 3273.4,1639.8 3308.7,1639.8 3310.1,1641.2 3310.1,1641.5ZM3391.4,1641.5 3391.4,1641.2 3393.7,1639.3 3402.9,1637.5 3409.8,1636.6 3412.0,1634.7 3413.0,1641.2 3413.0,1641.5Z" fill="#8E0152"/>
<rect x="458" y="1641.00" width="3096" height="1.05" fill="#000"/>
<rect x="149" y="1639.60" width="12" height="3.8" fill="#333"/>
<rect x="149" y="1600.97" width="12" height="3.8" fill="#333"/>
<rect x="149" y="1562.35" width="12" height="3.8" fill="#333"/>
<rect x="149" y="1523.72" width="12" height="3.8" fill="#333"/>
<rect x="149" y="1485.10" width="12" height="3.8" fill="#333"/>
<text x="308.6" y="1574.3" font-size="36.67" fill="#1A1A1A" text-anchor="middle">7 Fascia</text>
<rect x="158" y="45" width="4" height="1603.8" fill="#000"/>
<text transform="translate(80.1,853.7) rotate(-90)" font-size="45.83" fill="#000" text-anchor="middle" textLength="491.6" lengthAdjust="spacing">Normalized accessibility</text>
<text transform="translate(130.2,846.5) rotate(-90)" font-size="45.83" fill="#000" text-anchor="middle" textLength="307.9" lengthAdjust="spacing">(range 0 - 210)</text>
<rect x="158" y="1705.5" width="4" height="319.5" fill="#000"/>
<text transform="translate(105.1,1866.9) rotate(-90)" font-size="45.83" fill="#000" text-anchor="middle" textLength="136.7" lengthAdjust="spacing">Genes</text>
<rect x="158" y="2084" width="4" height="159.7" fill="#000"/>
<text transform="translate(105.1,2164.7) rotate(-90)" font-size="45.83" fill="#000" text-anchor="middle">Peaks</text>
<rect x="2454.0" y="1840.05" width="959.0" height="3.9" fill="#006400"/>
<path d="M2923.1,1831.4 L2912.5,1842.0 L2923.1,1852.6" fill="none" stroke="#006400" stroke-width="4" stroke-linecap="butt" stroke-linejoin="round"/>
<path d="M3075.7,1831.4 L3065.1,1842.0 L3075.7,1852.6" fill="none" stroke="#006400" stroke-width="4" stroke-linecap="butt" stroke-linejoin="round"/>
<path d="M3228.2,1831.4 L3217.6,1842.0 L3228.2,1852.6" fill="none" stroke="#006400" stroke-width="4" stroke-linecap="butt" stroke-linejoin="round"/>
<path d="M3380.8,1831.4 L3370.2,1842.0 L3380.8,1852.6" fill="none" stroke="#006400" stroke-width="4" stroke-linecap="butt" stroke-linejoin="round"/>
<rect x="2454.9" y="1820.10" width="387.1" height="43.8" fill="#006400"/>
<rect x="3017.9" y="1820.10" width="25.0" height="43.8" fill="#006400"/>
<rect x="1361.0" y="1921.05" width="2052.0" height="3.9" fill="#006400"/>
<path d="M1526.0,1912.4 L1515.4,1923.0 L1526.0,1933.6" fill="none" stroke="#006400" stroke-width="4" stroke-linecap="butt" stroke-linejoin="round"/>
<path d="M1678.6,1912.4 L1668.0,1923.0 L1678.6,1933.6" fill="none" stroke="#006400" stroke-width="4" stroke-linecap="butt" stroke-linejoin="round"/>
<path d="M1831.1,1912.4 L1820.5,1923.0 L1831.1,1933.6" fill="none" stroke="#006400" stroke-width="4" stroke-linecap="butt" stroke-linejoin="round"/>
<path d="M1983.7,1912.4 L1973.1,1923.0 L1983.7,1933.6" fill="none" stroke="#006400" stroke-width="4" stroke-linecap="butt" stroke-linejoin="round"/>
<path d="M2136.2,1912.4 L2125.6,1923.0 L2136.2,1933.6" fill="none" stroke="#006400" stroke-width="4" stroke-linecap="butt" stroke-linejoin="round"/>
<path d="M2288.8,1912.4 L2278.2,1923.0 L2288.8,1933.6" fill="none" stroke="#006400" stroke-width="4" stroke-linecap="butt" stroke-linejoin="round"/>
<path d="M2441.4,1912.4 L2430.8,1923.0 L2441.4,1933.6" fill="none" stroke="#006400" stroke-width="4" stroke-linecap="butt" stroke-linejoin="round"/>
<path d="M2593.9,1912.4 L2583.3,1923.0 L2593.9,1933.6" fill="none" stroke="#006400" stroke-width="4" stroke-linecap="butt" stroke-linejoin="round"/>
<path d="M2746.5,1912.4 L2735.9,1923.0 L2746.5,1933.6" fill="none" stroke="#006400" stroke-width="4" stroke-linecap="butt" stroke-linejoin="round"/>
<path d="M2899.0,1912.4 L2888.4,1923.0 L2899.0,1933.6" fill="none" stroke="#006400" stroke-width="4" stroke-linecap="butt" stroke-linejoin="round"/>
<path d="M3051.6,1912.4 L3041.0,1923.0 L3051.6,1933.6" fill="none" stroke="#006400" stroke-width="4" stroke-linecap="butt" stroke-linejoin="round"/>
<path d="M3204.2,1912.4 L3193.6,1923.0 L3204.2,1933.6" fill="none" stroke="#006400" stroke-width="4" stroke-linecap="butt" stroke-linejoin="round"/>
<path d="M3356.7,1912.4 L3346.1,1923.0 L3356.7,1933.6" fill="none" stroke="#006400" stroke-width="4" stroke-linecap="butt" stroke-linejoin="round"/>
<rect x="1362.0" y="1901.10" width="35.0" height="43.8" fill="#006400"/>
<rect x="1680.0" y="1901.10" width="17.0" height="43.8" fill="#006400"/>
<rect x="1817.0" y="1901.10" width="16.0" height="43.8" fill="#006400"/>
<rect x="2227.6" y="1901.10" width="20.4" height="43.8" fill="#006400"/>
<rect x="3017.9" y="1901.10" width="16.9" height="43.8" fill="#006400"/>
<rect x="1361.0" y="2002.05" width="984.0" height="3.9" fill="#006400"/>
<path d="M1524.7,1993.4 L1514.1,2004.0 L1524.7,2014.6" fill="none" stroke="#006400" stroke-width="4" stroke-linecap="butt" stroke-linejoin="round"/>
<path d="M1677.2,1993.4 L1666.6,2004.0 L1677.2,2014.6" fill="none" stroke="#006400" stroke-width="4" stroke-linecap="butt" stroke-linejoin="round"/>
<path d="M1829.7,1993.4 L1819.1,2004.0 L1829.7,2014.6" fill="none" stroke="#006400" stroke-width="4" stroke-linecap="butt" stroke-linejoin="round"/>
<path d="M1982.2,1993.4 L1971.6,2004.0 L1982.2,2014.6" fill="none" stroke="#006400" stroke-width="4" stroke-linecap="butt" stroke-linejoin="round"/>
<path d="M2134.7,1993.4 L2124.1,2004.0 L2134.7,2014.6" fill="none" stroke="#006400" stroke-width="4" stroke-linecap="butt" stroke-linejoin="round"/>
<path d="M2287.2,1993.4 L2276.6,2004.0 L2287.2,2014.6" fill="none" stroke="#006400" stroke-width="4" stroke-linecap="butt" stroke-linejoin="round"/>
<rect x="1362.0" y="1982.10" width="35.0" height="43.8" fill="#006400"/>
<rect x="1680.0" y="1982.10" width="17.0" height="43.8" fill="#006400"/>
<rect x="1817.0" y="1982.10" width="16.0" height="43.8" fill="#006400"/>
<rect x="2227.6" y="1982.10" width="44.4" height="43.8" fill="#006400"/>
<rect x="2278.6" y="1982.10" width="66.3" height="43.8" fill="#006400"/>
<rect x="599.0" y="2002.05" width="331.0" height="3.9" fill="#00008B"/>
<path d="M588.1,1993.4 L598.7,2004.0 L588.1,2014.6" fill="none" stroke="#00008B" stroke-width="4" stroke-linecap="butt" stroke-linejoin="round"/>
<path d="M740.8,1993.4 L751.4,2004.0 L740.8,2014.6" fill="none" stroke="#00008B" stroke-width="4" stroke-linecap="butt" stroke-linejoin="round"/>
<path d="M893.1,1993.4 L903.7,2004.0 L893.1,2014.6" fill="none" stroke="#00008B" stroke-width="4" stroke-linecap="butt" stroke-linejoin="round"/>
<path d="M919.4,1993.4 L930.0,2004.0 L919.4,2014.6" fill="none" stroke="#00008B" stroke-width="4" stroke-linecap="butt" stroke-linejoin="round"/>
<text x="761.5" y="1970.5" font-size="35.57" fill="#000" text-anchor="middle">Mbtd1</text>
<text x="1852" y="1970.4" font-size="35.57" fill="#000" text-anchor="middle">Nme2</text>
<text x="2387.4" y="1888.8" font-size="35.57" fill="#000" text-anchor="middle">Gm20390</text>
<text x="2932.8" y="1808.3" font-size="35.57" fill="#000" text-anchor="middle">Nme1</text>
<rect x="2130.9" y="2156" width="272.1" height="16.8" fill="#696969"/>
<rect x="2498" y="2156" width="30.9" height="16.8" fill="#696969"/>
<rect x="458" y="2242" width="3096" height="4" fill="#000"/>
<rect x="624.95" y="2244" width="3.8" height="11.5" fill="#333"/>
<text x="626.85" y="2293" font-size="37.6" fill="#4D4D4D" text-anchor="middle" textLength="168.1" lengthAdjust="spacing">93945000</text>
<rect x="1388.00" y="2244" width="3.8" height="11.5" fill="#333"/>
<text x="1389.90" y="2293" font-size="37.6" fill="#4D4D4D" text-anchor="middle" textLength="168.1" lengthAdjust="spacing">93950000</text>
<rect x="2151.05" y="2244" width="3.8" height="11.5" fill="#333"/>
<text x="2152.95" y="2293" font-size="37.6" fill="#4D4D4D" text-anchor="middle" textLength="168.1" lengthAdjust="spacing">93955000</text>
<rect x="2914.10" y="2244" width="3.8" height="11.5" fill="#333"/>
<text x="2916.00" y="2293" font-size="37.6" fill="#4D4D4D" text-anchor="middle" textLength="168.1" lengthAdjust="spacing">93960000</text>
<text x="2006.7" y="2345.8" font-size="45.83" fill="#000" text-anchor="middle" textLength="387.2" lengthAdjust="spacing">chr11 position (bp)</text>
</svg></body></html>
